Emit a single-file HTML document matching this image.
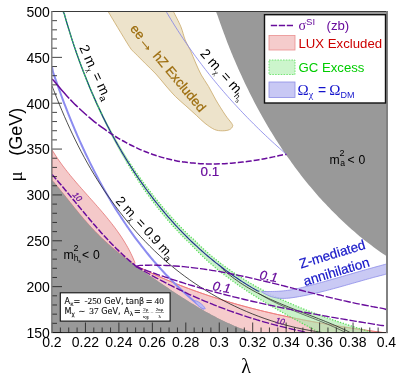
<!DOCTYPE html>
<html><head><meta charset="utf-8"><title>plot</title>
<style>html,body{margin:0;padding:0;background:#fff}svg{display:block}</style></head>
<body>
<svg width="399" height="383" viewBox="0 0 399 383">
<defs><clipPath id="cp"><rect x="52.0" y="11.5" width="334.5" height="321.0"/></clipPath></defs>
<rect width="399" height="383" fill="#fff"/>
<g clip-path="url(#cp)">
<path d="M216.00 11.50 C216.31 12.31 217.29 14.77 217.89 16.38 C218.48 18.00 218.99 19.60 219.55 21.20 C220.11 22.80 220.68 24.41 221.25 26.01 C221.82 27.61 222.40 29.21 222.99 30.81 C223.58 32.41 224.17 34.01 224.77 35.61 C225.37 37.21 225.98 38.80 226.59 40.40 C227.20 41.99 227.82 43.58 228.45 45.17 C229.08 46.76 229.71 48.35 230.35 49.94 C230.99 51.53 231.64 53.11 232.29 54.69 C232.95 56.28 233.61 57.86 234.28 59.44 C234.95 61.01 235.62 62.59 236.30 64.16 C236.98 65.74 237.67 67.31 238.37 68.88 C239.06 70.45 239.76 72.01 240.47 73.58 C241.18 75.14 241.90 76.70 242.62 78.26 C243.35 79.81 244.08 81.37 244.81 82.92 C245.55 84.47 246.29 86.02 247.05 87.57 C247.80 89.11 248.56 90.65 249.32 92.19 C250.09 93.73 250.86 95.27 251.64 96.80 C252.42 98.33 253.21 99.86 254.00 101.38 C254.80 102.91 255.60 104.43 256.41 105.95 C257.21 107.46 258.03 108.98 258.85 110.49 C259.68 111.99 260.51 113.50 261.35 115.00 C262.18 116.50 263.03 118.00 263.88 119.49 C264.73 120.98 265.59 122.47 266.46 123.95 C267.33 125.44 268.20 126.92 269.09 128.39 C269.97 129.86 270.86 131.33 271.75 132.80 C272.65 134.26 273.56 135.72 274.47 137.18 C275.38 138.63 276.30 140.08 277.23 141.53 C278.15 142.97 279.09 144.41 280.03 145.85 C280.97 147.28 281.92 148.71 282.88 150.13 C283.84 151.56 284.80 152.97 285.78 154.39 C286.75 155.80 287.73 157.21 288.72 158.61 C289.71 160.01 290.70 161.40 291.70 162.79 C292.71 164.18 293.72 165.56 294.74 166.94 C295.76 168.32 296.79 169.69 297.82 171.05 C298.85 172.42 299.90 173.78 300.95 175.13 C302.00 176.48 303.06 177.83 304.12 179.17 C305.19 180.50 306.26 181.84 307.35 183.16 C308.43 184.49 309.52 185.81 310.62 187.12 C311.71 188.43 312.82 189.74 313.93 191.03 C315.05 192.33 316.17 193.62 317.30 194.91 C318.43 196.19 319.57 197.47 320.71 198.74 C321.86 200.00 323.02 201.27 324.18 202.52 C325.34 203.77 326.51 205.02 327.69 206.26 C328.87 207.50 330.06 208.73 331.25 209.95 C332.45 211.18 333.65 212.39 334.86 213.60 C336.07 214.80 337.29 216.00 338.52 217.20 C339.75 218.39 340.99 219.57 342.23 220.74 C343.48 221.92 344.73 223.08 345.99 224.24 C347.25 225.40 348.52 226.55 349.80 227.69 C351.08 228.83 352.36 229.96 353.66 231.08 C354.96 232.21 356.26 233.32 357.57 234.42 C358.88 235.53 360.20 236.63 361.53 237.71 C362.86 238.80 364.20 239.88 365.55 240.95 C366.89 242.01 368.25 243.07 369.61 244.12 C370.97 245.17 372.35 246.21 373.73 247.24 C375.11 248.27 376.50 249.29 377.89 250.30 C379.29 251.32 380.68 252.36 382.11 253.31 C383.55 254.26 385.77 255.55 386.50 256.00 L386.50 11.50 Z" fill="#999"/>
<path d="M52.00 180.50 C52.26 180.72 53.09 181.33 53.57 181.81 C54.05 182.29 54.44 182.85 54.87 183.38 C55.31 183.90 55.74 184.42 56.17 184.95 C56.60 185.47 57.03 185.99 57.46 186.52 C57.89 187.05 58.32 187.57 58.75 188.10 C59.18 188.63 59.60 189.16 60.03 189.68 C60.46 190.21 60.89 190.74 61.31 191.27 C61.74 191.80 62.16 192.33 62.59 192.86 C63.01 193.39 63.44 193.92 63.86 194.45 C64.29 194.98 64.71 195.51 65.14 196.04 C65.56 196.58 65.98 197.11 66.41 197.64 C66.83 198.17 67.25 198.70 67.68 199.23 C68.10 199.76 68.53 200.29 68.95 200.83 C69.37 201.36 69.80 201.89 70.22 202.42 C70.65 202.95 71.07 203.48 71.50 204.01 C71.92 204.54 72.35 205.07 72.77 205.60 C73.20 206.13 73.63 206.66 74.05 207.18 C74.48 207.71 74.91 208.24 75.33 208.77 C75.76 209.29 76.19 209.82 76.62 210.34 C77.05 210.87 77.48 211.39 77.91 211.92 C78.34 212.44 78.77 212.97 79.21 213.49 C79.64 214.01 80.07 214.53 80.51 215.05 C80.94 215.57 81.38 216.09 81.82 216.61 C82.25 217.12 82.69 217.64 83.13 218.15 C83.57 218.67 84.01 219.18 84.46 219.70 C84.90 220.21 85.34 220.72 85.79 221.23 C86.23 221.74 86.68 222.25 87.13 222.75 C87.57 223.26 88.02 223.76 88.48 224.27 C88.93 224.77 89.38 225.27 89.83 225.77 C90.29 226.27 90.75 226.77 91.20 227.26 C91.66 227.76 92.12 228.25 92.59 228.75 C93.05 229.24 93.51 229.73 93.98 230.22 C94.45 230.70 94.91 231.19 95.38 231.67 C95.85 232.16 96.33 232.64 96.80 233.12 C97.27 233.60 97.75 234.08 98.23 234.55 C98.71 235.03 99.19 235.50 99.67 235.98 C100.15 236.45 100.64 236.92 101.12 237.39 C101.61 237.85 102.10 238.32 102.59 238.78 C103.08 239.25 103.57 239.71 104.06 240.17 C104.56 240.63 105.05 241.09 105.55 241.55 C106.05 242.00 106.55 242.46 107.05 242.91 C107.55 243.36 108.05 243.81 108.56 244.26 C109.06 244.71 109.57 245.16 110.08 245.60 C110.59 246.05 111.10 246.49 111.61 246.93 C112.12 247.37 112.64 247.81 113.16 248.25 C113.67 248.69 114.19 249.12 114.71 249.56 C115.23 249.99 115.75 250.42 116.28 250.85 C116.80 251.28 117.33 251.71 117.86 252.13 C118.38 252.56 118.91 252.99 119.45 253.41 C119.98 253.83 120.51 254.25 121.04 254.67 C121.58 255.09 122.12 255.51 122.66 255.92 C123.19 256.34 123.74 256.75 124.28 257.16 C124.82 257.57 125.36 257.98 125.91 258.39 C126.46 258.80 127.00 259.20 127.55 259.61 C128.10 260.01 128.65 260.42 129.21 260.82 C129.76 261.22 130.32 261.62 130.87 262.01 C131.43 262.41 131.99 262.81 132.55 263.20 C133.11 263.60 133.74 263.91 134.23 264.38 C134.73 264.84 134.96 265.53 135.50 266.00 C136.04 266.47 136.81 266.81 137.45 267.23 C138.10 267.64 138.72 268.07 139.36 268.50 C139.99 268.92 140.63 269.35 141.26 269.78 C141.89 270.20 142.53 270.63 143.16 271.06 C143.79 271.48 144.42 271.91 145.06 272.34 C145.69 272.77 146.32 273.20 146.96 273.63 C147.59 274.06 148.22 274.49 148.85 274.92 C149.48 275.35 150.12 275.78 150.75 276.21 C151.38 276.64 152.01 277.08 152.65 277.51 C153.28 277.94 153.91 278.37 154.54 278.80 C155.18 279.24 155.81 279.67 156.44 280.10 C157.07 280.53 157.71 280.96 158.34 281.40 C158.97 281.83 159.61 282.26 160.24 282.69 C160.87 283.12 161.51 283.56 162.14 283.99 C162.77 284.42 163.41 284.85 164.04 285.28 C164.68 285.71 165.31 286.14 165.94 286.57 C166.58 287.00 167.21 287.43 167.85 287.86 C168.49 288.29 169.12 288.72 169.76 289.14 C170.39 289.57 171.03 290.00 171.67 290.43 C172.31 290.85 172.94 291.28 173.58 291.70 C174.22 292.13 174.86 292.55 175.50 292.98 C176.14 293.40 176.78 293.82 177.42 294.24 C178.06 294.66 178.70 295.08 179.34 295.50 C179.98 295.92 180.62 296.34 181.27 296.76 C181.91 297.18 182.55 297.59 183.20 298.01 C183.84 298.42 184.48 298.83 185.13 299.25 C185.78 299.66 186.42 300.07 187.07 300.48 C187.72 300.89 188.37 301.30 189.01 301.70 C189.66 302.11 190.31 302.52 190.96 302.92 C191.61 303.32 192.26 303.72 192.92 304.12 C193.57 304.52 194.22 304.92 194.88 305.32 C195.53 305.72 196.19 306.11 196.84 306.50 C197.50 306.90 198.16 307.29 198.81 307.68 C199.47 308.07 200.13 308.45 200.79 308.84 C201.45 309.22 202.11 309.61 202.78 309.99 C203.44 310.37 204.10 310.75 204.77 311.13 C205.43 311.50 206.10 311.88 206.77 312.25 C207.43 312.62 208.10 312.99 208.77 313.36 C209.44 313.73 210.11 314.09 210.78 314.45 C211.46 314.82 212.13 315.18 212.81 315.53 C213.48 315.89 214.16 316.25 214.83 316.60 C215.51 316.95 216.19 317.30 216.87 317.65 C217.55 317.99 218.23 318.34 218.92 318.68 C219.60 319.02 220.29 319.36 220.97 319.70 C221.66 320.03 222.35 320.36 223.04 320.69 C223.73 321.02 224.42 321.35 225.11 321.67 C225.80 322.00 226.50 322.32 227.19 322.63 C227.89 322.95 228.59 323.26 229.28 323.58 C229.98 323.89 230.68 324.19 231.39 324.50 C232.09 324.80 232.79 325.10 233.50 325.40 C234.21 325.70 234.91 325.99 235.62 326.28 C236.33 326.57 237.05 326.86 237.76 327.14 C238.47 327.42 239.19 327.70 239.90 327.98 C240.62 328.25 241.34 328.53 242.06 328.79 C242.78 329.06 243.50 329.33 244.23 329.59 C244.95 329.85 245.68 330.10 246.41 330.35 C247.14 330.61 247.87 330.86 248.60 331.10 C249.34 331.34 250.07 331.59 250.81 331.82 C251.54 332.05 252.63 332.39 253.00 332.50 L52.00 332.50 Z" fill="#999"/>
<path d="M108.10 11.50 C109.95 14.58 115.50 23.92 119.20 30.00 C122.90 36.08 127.67 44.15 130.30 48.00 C132.93 51.85 132.48 50.50 135.00 53.10 C137.52 55.70 141.92 60.12 145.40 63.60 C148.88 67.08 152.47 70.27 155.90 74.00 C159.33 77.73 162.75 82.25 166.00 86.00 C169.25 89.75 172.08 93.18 175.40 96.50 C178.72 99.82 182.42 102.77 185.90 105.90 C189.38 109.03 193.12 112.40 196.30 115.30 C199.48 118.20 201.97 120.93 205.00 123.30 C208.03 125.67 211.62 128.25 214.50 129.50 C217.38 130.75 219.82 130.77 222.30 130.80 C224.78 130.83 227.70 130.42 229.40 129.70 C231.10 128.98 232.12 127.55 232.50 126.50 C232.88 125.45 232.90 125.32 231.70 123.40 C230.50 121.48 227.93 118.90 225.30 115.00 C222.67 111.10 218.68 104.75 215.90 100.00 C213.12 95.25 211.03 90.67 208.60 86.50 C206.17 82.33 203.45 78.92 201.30 75.00 C199.15 71.08 197.52 67.10 195.70 63.00 C193.88 58.90 192.15 54.23 190.40 50.40 C188.65 46.57 186.78 43.93 185.20 40.00 C183.62 36.07 182.87 31.55 180.90 26.80 C178.93 22.05 174.65 14.05 173.40 11.50 Z" fill="#ede3cb" stroke="#c9a868" stroke-width="0.8"/>
<path d="M52.00 150.00 C52.23 150.34 52.95 151.36 53.39 152.04 C53.84 152.71 54.23 153.39 54.66 154.06 C55.09 154.74 55.52 155.41 55.96 156.08 C56.39 156.74 56.83 157.41 57.28 158.07 C57.73 158.73 58.18 159.39 58.63 160.05 C59.09 160.71 59.55 161.36 60.01 162.01 C60.48 162.67 60.95 163.32 61.42 163.96 C61.89 164.61 62.37 165.26 62.85 165.90 C63.33 166.54 63.81 167.18 64.30 167.82 C64.79 168.46 65.28 169.10 65.77 169.74 C66.26 170.37 66.76 171.00 67.26 171.64 C67.76 172.27 68.27 172.90 68.77 173.53 C69.28 174.15 69.79 174.78 70.30 175.41 C70.81 176.03 71.32 176.66 71.84 177.28 C72.36 177.90 72.88 178.52 73.40 179.14 C73.92 179.76 74.44 180.38 74.97 181.00 C75.49 181.62 76.02 182.23 76.55 182.85 C77.08 183.46 77.61 184.08 78.14 184.69 C78.67 185.30 79.21 185.92 79.74 186.53 C80.28 187.14 80.81 187.75 81.35 188.36 C81.89 188.98 82.43 189.59 82.97 190.19 C83.51 190.80 84.05 191.41 84.59 192.02 C85.13 192.63 85.67 193.24 86.21 193.85 C86.75 194.46 87.29 195.07 87.84 195.67 C88.38 196.28 88.92 196.89 89.46 197.50 C90.00 198.11 90.55 198.71 91.09 199.32 C91.63 199.93 92.17 200.54 92.71 201.15 C93.25 201.76 93.79 202.37 94.33 202.98 C94.87 203.59 95.41 204.20 95.95 204.81 C96.49 205.42 97.02 206.03 97.56 206.64 C98.10 207.25 98.63 207.86 99.16 208.48 C99.70 209.09 100.23 209.70 100.76 210.32 C101.29 210.93 101.82 211.55 102.34 212.17 C102.87 212.79 103.40 213.40 103.92 214.02 C104.44 214.64 104.96 215.26 105.48 215.88 C106.00 216.51 106.51 217.13 107.03 217.75 C107.54 218.38 108.05 219.00 108.56 219.63 C109.07 220.26 109.57 220.89 110.07 221.52 C110.58 222.15 111.08 222.78 111.57 223.42 C112.07 224.05 112.56 224.69 113.05 225.33 C113.54 225.96 114.02 226.61 114.51 227.25 C114.99 227.89 115.47 228.53 115.94 229.18 C116.42 229.83 116.89 230.48 117.35 231.13 C117.82 231.78 118.28 232.43 118.74 233.09 C119.20 233.74 119.65 234.40 120.10 235.06 C120.55 235.72 121.00 236.39 121.44 237.05 C121.88 237.72 122.31 238.39 122.74 239.06 C123.17 239.73 123.60 240.41 124.02 241.09 C124.44 241.76 124.85 242.44 125.26 243.13 C125.67 243.81 126.07 244.50 126.47 245.19 C126.87 245.88 127.26 246.57 127.65 247.27 C128.04 247.97 128.42 248.67 128.79 249.37 C129.17 250.07 129.53 250.78 129.90 251.49 C130.26 252.20 130.61 252.92 130.96 253.63 C131.31 254.35 131.65 255.07 131.99 255.80 C132.33 256.53 132.65 257.25 132.98 257.99 C133.30 258.72 133.61 259.46 133.92 260.20 C134.23 260.94 134.72 261.64 134.82 262.44 C134.92 263.24 134.55 264.57 134.50 265.00 L134.23 264.38 C133.95 264.18 133.11 263.60 132.55 263.20 C131.99 262.81 131.43 262.41 130.87 262.01 C130.32 261.62 129.76 261.22 129.21 260.82 C128.65 260.42 128.10 260.01 127.55 259.61 C127.00 259.20 126.46 258.80 125.91 258.39 C125.36 257.98 124.82 257.57 124.28 257.16 C123.74 256.75 123.19 256.34 122.66 255.92 C122.12 255.51 121.58 255.09 121.04 254.67 C120.51 254.25 119.98 253.83 119.45 253.41 C118.91 252.99 118.38 252.56 117.86 252.13 C117.33 251.71 116.80 251.28 116.28 250.85 C115.75 250.42 115.23 249.99 114.71 249.56 C114.19 249.12 113.67 248.69 113.16 248.25 C112.64 247.81 112.12 247.37 111.61 246.93 C111.10 246.49 110.59 246.05 110.08 245.60 C109.57 245.16 109.06 244.71 108.56 244.26 C108.05 243.81 107.55 243.36 107.05 242.91 C106.55 242.46 106.05 242.00 105.55 241.55 C105.05 241.09 104.56 240.63 104.06 240.17 C103.57 239.71 103.08 239.25 102.59 238.78 C102.10 238.32 101.61 237.85 101.12 237.39 C100.64 236.92 100.15 236.45 99.67 235.98 C99.19 235.50 98.71 235.03 98.23 234.55 C97.75 234.08 97.27 233.60 96.80 233.12 C96.33 232.64 95.85 232.16 95.38 231.67 C94.91 231.19 94.45 230.70 93.98 230.22 C93.51 229.73 93.05 229.24 92.59 228.75 C92.12 228.25 91.66 227.76 91.20 227.26 C90.75 226.77 90.29 226.27 89.83 225.77 C89.38 225.27 88.93 224.77 88.48 224.27 C88.02 223.76 87.57 223.26 87.13 222.75 C86.68 222.25 86.23 221.74 85.79 221.23 C85.34 220.72 84.90 220.21 84.46 219.70 C84.01 219.18 83.57 218.67 83.13 218.15 C82.69 217.64 82.25 217.12 81.82 216.61 C81.38 216.09 80.94 215.57 80.51 215.05 C80.07 214.53 79.64 214.01 79.21 213.49 C78.77 212.97 78.34 212.44 77.91 211.92 C77.48 211.39 77.05 210.87 76.62 210.34 C76.19 209.82 75.76 209.29 75.33 208.77 C74.91 208.24 74.48 207.71 74.05 207.18 C73.63 206.66 73.20 206.13 72.77 205.60 C72.35 205.07 71.92 204.54 71.50 204.01 C71.07 203.48 70.65 202.95 70.22 202.42 C69.80 201.89 69.37 201.36 68.95 200.83 C68.53 200.29 68.10 199.76 67.68 199.23 C67.25 198.70 66.83 198.17 66.41 197.64 C65.98 197.11 65.56 196.58 65.14 196.04 C64.71 195.51 64.29 194.98 63.86 194.45 C63.44 193.92 63.01 193.39 62.59 192.86 C62.16 192.33 61.74 191.80 61.31 191.27 C60.89 190.74 60.46 190.21 60.03 189.68 C59.60 189.16 59.18 188.63 58.75 188.10 C58.32 187.57 57.89 187.05 57.46 186.52 C57.03 185.99 56.60 185.47 56.17 184.95 C55.74 184.42 55.31 183.90 54.87 183.38 C54.44 182.85 54.05 182.29 53.57 181.81 C53.09 181.33 52.26 180.72 52.00 180.50 Z" fill="#f3c6c6" fill-opacity="0.95" stroke="#e57272" stroke-width="0.8"/>
<path d="M135.50 266.00 C136.20 266.24 138.31 266.89 139.67 267.46 C141.03 268.03 142.33 268.77 143.66 269.41 C145.00 270.06 146.33 270.70 147.67 271.33 C149.01 271.96 150.35 272.59 151.69 273.21 C153.03 273.83 154.37 274.45 155.72 275.05 C157.07 275.66 158.42 276.26 159.77 276.86 C161.12 277.45 162.47 278.04 163.83 278.63 C165.18 279.21 166.54 279.79 167.90 280.36 C169.26 280.93 170.62 281.50 171.98 282.06 C173.35 282.62 174.71 283.17 176.08 283.72 C177.45 284.27 178.82 284.81 180.19 285.35 C181.56 285.89 182.94 286.42 184.31 286.94 C185.69 287.47 187.07 287.99 188.45 288.50 C189.83 289.02 191.21 289.53 192.59 290.03 C193.98 290.54 195.36 291.04 196.75 291.53 C198.14 292.02 199.52 292.51 200.92 292.99 C202.31 293.48 203.70 293.96 205.09 294.43 C206.49 294.90 207.88 295.37 209.28 295.83 C210.68 296.29 212.08 296.75 213.48 297.20 C214.88 297.65 216.28 298.10 217.69 298.54 C219.09 298.99 220.49 299.43 221.90 299.86 C223.31 300.29 224.72 300.72 226.13 301.14 C227.54 301.57 228.95 301.98 230.36 302.40 C231.78 302.81 233.19 303.22 234.61 303.63 C236.02 304.03 237.44 304.43 238.86 304.83 C240.28 305.22 241.70 305.61 243.12 306.00 C244.54 306.39 245.96 306.77 247.39 307.15 C248.81 307.53 250.24 307.90 251.66 308.27 C253.09 308.64 254.52 309.01 255.94 309.37 C257.37 309.73 258.80 310.09 260.23 310.44 C261.66 310.79 263.10 311.14 264.53 311.49 C265.96 311.83 267.40 312.17 268.83 312.51 C270.27 312.85 271.70 313.18 273.14 313.51 C274.58 313.84 276.02 314.17 277.46 314.49 C278.90 314.81 280.34 315.13 281.78 315.45 C283.22 315.76 284.66 316.07 286.10 316.38 C287.54 316.69 288.99 316.99 290.43 317.29 C291.88 317.59 293.32 317.89 294.77 318.18 C296.21 318.48 297.66 318.77 299.11 319.06 C300.56 319.34 302.00 319.63 303.45 319.91 C304.90 320.19 306.35 320.47 307.80 320.74 C309.25 321.01 310.70 321.29 312.15 321.55 C313.60 321.82 315.06 322.09 316.51 322.35 C317.96 322.61 319.41 322.87 320.87 323.13 C322.32 323.38 323.77 323.64 325.23 323.89 C326.68 324.14 328.14 324.38 329.59 324.63 C331.05 324.88 332.50 325.12 333.96 325.36 C335.41 325.60 336.87 325.83 338.33 326.07 C339.78 326.30 341.24 326.54 342.70 326.76 C344.15 326.99 345.61 327.22 347.07 327.45 C348.53 327.67 349.98 327.89 351.44 328.11 C352.90 328.33 354.36 328.55 355.82 328.77 C357.27 328.98 358.73 329.20 360.19 329.41 C361.65 329.62 363.11 329.83 364.56 330.03 C366.02 330.24 367.48 330.45 368.94 330.65 C370.40 330.85 371.86 331.05 373.31 331.25 C374.77 331.45 376.23 331.65 377.69 331.84 C379.15 332.04 380.59 332.32 382.06 332.43 C383.53 332.53 385.76 332.49 386.50 332.50 L386.50 334.00 C344.67 334.00 177.33 334.00 135.50 334.00 Z" fill="#ee9999" fill-opacity="0.5" stroke="#e77" stroke-width="0.8"/>
<path d="M52.00 180.50 C52.26 180.72 53.09 181.33 53.57 181.81 C54.05 182.29 54.44 182.85 54.87 183.38 C55.31 183.90 55.74 184.42 56.17 184.95 C56.60 185.47 57.03 185.99 57.46 186.52 C57.89 187.05 58.32 187.57 58.75 188.10 C59.18 188.63 59.60 189.16 60.03 189.68 C60.46 190.21 60.89 190.74 61.31 191.27 C61.74 191.80 62.16 192.33 62.59 192.86 C63.01 193.39 63.44 193.92 63.86 194.45 C64.29 194.98 64.71 195.51 65.14 196.04 C65.56 196.58 65.98 197.11 66.41 197.64 C66.83 198.17 67.25 198.70 67.68 199.23 C68.10 199.76 68.53 200.29 68.95 200.83 C69.37 201.36 69.80 201.89 70.22 202.42 C70.65 202.95 71.07 203.48 71.50 204.01 C71.92 204.54 72.35 205.07 72.77 205.60 C73.20 206.13 73.63 206.66 74.05 207.18 C74.48 207.71 74.91 208.24 75.33 208.77 C75.76 209.29 76.19 209.82 76.62 210.34 C77.05 210.87 77.48 211.39 77.91 211.92 C78.34 212.44 78.77 212.97 79.21 213.49 C79.64 214.01 80.07 214.53 80.51 215.05 C80.94 215.57 81.38 216.09 81.82 216.61 C82.25 217.12 82.69 217.64 83.13 218.15 C83.57 218.67 84.01 219.18 84.46 219.70 C84.90 220.21 85.34 220.72 85.79 221.23 C86.23 221.74 86.68 222.25 87.13 222.75 C87.57 223.26 88.02 223.76 88.48 224.27 C88.93 224.77 89.38 225.27 89.83 225.77 C90.29 226.27 90.75 226.77 91.20 227.26 C91.66 227.76 92.12 228.25 92.59 228.75 C93.05 229.24 93.51 229.73 93.98 230.22 C94.45 230.70 94.91 231.19 95.38 231.67 C95.85 232.16 96.33 232.64 96.80 233.12 C97.27 233.60 97.75 234.08 98.23 234.55 C98.71 235.03 99.19 235.50 99.67 235.98 C100.15 236.45 100.64 236.92 101.12 237.39 C101.61 237.85 102.10 238.32 102.59 238.78 C103.08 239.25 103.57 239.71 104.06 240.17 C104.56 240.63 105.05 241.09 105.55 241.55 C106.05 242.00 106.55 242.46 107.05 242.91 C107.55 243.36 108.05 243.81 108.56 244.26 C109.06 244.71 109.57 245.16 110.08 245.60 C110.59 246.05 111.10 246.49 111.61 246.93 C112.12 247.37 112.64 247.81 113.16 248.25 C113.67 248.69 114.19 249.12 114.71 249.56 C115.23 249.99 115.75 250.42 116.28 250.85 C116.80 251.28 117.33 251.71 117.86 252.13 C118.38 252.56 118.91 252.99 119.45 253.41 C119.98 253.83 120.51 254.25 121.04 254.67 C121.58 255.09 122.12 255.51 122.66 255.92 C123.19 256.34 123.74 256.75 124.28 257.16 C124.82 257.57 125.36 257.98 125.91 258.39 C126.46 258.80 127.00 259.20 127.55 259.61 C128.10 260.01 128.65 260.42 129.21 260.82 C129.76 261.22 130.32 261.62 130.87 262.01 C131.43 262.41 131.99 262.81 132.55 263.20 C133.11 263.60 133.74 263.91 134.23 264.38 C134.73 264.84 134.96 265.53 135.50 266.00 C136.04 266.47 136.81 266.81 137.45 267.23 C138.10 267.64 138.72 268.07 139.36 268.50 C139.99 268.92 140.63 269.35 141.26 269.78 C141.89 270.20 142.53 270.63 143.16 271.06 C143.79 271.48 144.42 271.91 145.06 272.34 C145.69 272.77 146.32 273.20 146.96 273.63 C147.59 274.06 148.22 274.49 148.85 274.92 C149.48 275.35 150.12 275.78 150.75 276.21 C151.38 276.64 152.01 277.08 152.65 277.51 C153.28 277.94 153.91 278.37 154.54 278.80 C155.18 279.24 155.81 279.67 156.44 280.10 C157.07 280.53 157.71 280.96 158.34 281.40 C158.97 281.83 159.61 282.26 160.24 282.69 C160.87 283.12 161.51 283.56 162.14 283.99 C162.77 284.42 163.41 284.85 164.04 285.28 C164.68 285.71 165.31 286.14 165.94 286.57 C166.58 287.00 167.21 287.43 167.85 287.86 C168.49 288.29 169.12 288.72 169.76 289.14 C170.39 289.57 171.03 290.00 171.67 290.43 C172.31 290.85 172.94 291.28 173.58 291.70 C174.22 292.13 174.86 292.55 175.50 292.98 C176.14 293.40 176.78 293.82 177.42 294.24 C178.06 294.66 178.70 295.08 179.34 295.50 C179.98 295.92 180.62 296.34 181.27 296.76 C181.91 297.18 182.55 297.59 183.20 298.01 C183.84 298.42 184.48 298.83 185.13 299.25 C185.78 299.66 186.42 300.07 187.07 300.48 C187.72 300.89 188.37 301.30 189.01 301.70 C189.66 302.11 190.31 302.52 190.96 302.92 C191.61 303.32 192.26 303.72 192.92 304.12 C193.57 304.52 194.22 304.92 194.88 305.32 C195.53 305.72 196.19 306.11 196.84 306.50 C197.50 306.90 198.16 307.29 198.81 307.68 C199.47 308.07 200.13 308.45 200.79 308.84 C201.45 309.22 202.11 309.61 202.78 309.99 C203.44 310.37 204.10 310.75 204.77 311.13 C205.43 311.50 206.10 311.88 206.77 312.25 C207.43 312.62 208.10 312.99 208.77 313.36 C209.44 313.73 210.11 314.09 210.78 314.45 C211.46 314.82 212.13 315.18 212.81 315.53 C213.48 315.89 214.16 316.25 214.83 316.60 C215.51 316.95 216.19 317.30 216.87 317.65 C217.55 317.99 218.23 318.34 218.92 318.68 C219.60 319.02 220.29 319.36 220.97 319.70 C221.66 320.03 222.35 320.36 223.04 320.69 C223.73 321.02 224.42 321.35 225.11 321.67 C225.80 322.00 226.50 322.32 227.19 322.63 C227.89 322.95 228.59 323.26 229.28 323.58 C229.98 323.89 230.68 324.19 231.39 324.50 C232.09 324.80 232.79 325.10 233.50 325.40 C234.21 325.70 234.91 325.99 235.62 326.28 C236.33 326.57 237.05 326.86 237.76 327.14 C238.47 327.42 239.19 327.70 239.90 327.98 C240.62 328.25 241.34 328.53 242.06 328.79 C242.78 329.06 243.50 329.33 244.23 329.59 C244.95 329.85 245.68 330.10 246.41 330.35 C247.14 330.61 247.87 330.86 248.60 331.10 C249.34 331.34 250.07 331.59 250.81 331.82 C251.54 332.05 252.63 332.39 253.00 332.50 L52.00 332.50 Z" fill="#999"/>
<path d="M135.50 266.00 C136.20 266.24 138.31 266.89 139.67 267.46 C141.03 268.03 142.33 268.77 143.66 269.41 C145.00 270.06 146.33 270.70 147.67 271.33 C149.01 271.96 150.35 272.59 151.69 273.21 C153.03 273.83 154.37 274.45 155.72 275.05 C157.07 275.66 158.42 276.26 159.77 276.86 C161.12 277.45 162.47 278.04 163.83 278.63 C165.18 279.21 166.54 279.79 167.90 280.36 C169.26 280.93 170.62 281.50 171.98 282.06 C173.35 282.62 174.71 283.17 176.08 283.72 C177.45 284.27 178.82 284.81 180.19 285.35 C181.56 285.89 182.94 286.42 184.31 286.94 C185.69 287.47 187.07 287.99 188.45 288.50 C189.83 289.02 191.21 289.53 192.59 290.03 C193.98 290.54 195.36 291.04 196.75 291.53 C198.14 292.02 199.52 292.51 200.92 292.99 C202.31 293.48 203.70 293.96 205.09 294.43 C206.49 294.90 207.88 295.37 209.28 295.83 C210.68 296.29 212.08 296.75 213.48 297.20 C214.88 297.65 216.28 298.10 217.69 298.54 C219.09 298.99 220.49 299.43 221.90 299.86 C223.31 300.29 224.72 300.72 226.13 301.14 C227.54 301.57 228.95 301.98 230.36 302.40 C231.78 302.81 233.19 303.22 234.61 303.63 C236.02 304.03 237.44 304.43 238.86 304.83 C240.28 305.22 241.70 305.61 243.12 306.00 C244.54 306.39 245.96 306.77 247.39 307.15 C248.81 307.53 250.24 307.90 251.66 308.27 C253.09 308.64 254.52 309.01 255.94 309.37 C257.37 309.73 258.80 310.09 260.23 310.44 C261.66 310.79 263.10 311.14 264.53 311.49 C265.96 311.83 267.40 312.17 268.83 312.51 C270.27 312.85 271.70 313.18 273.14 313.51 C274.58 313.84 276.02 314.17 277.46 314.49 C278.90 314.81 280.34 315.13 281.78 315.45 C283.22 315.76 284.66 316.07 286.10 316.38 C287.54 316.69 288.99 316.99 290.43 317.29 C291.88 317.59 293.32 317.89 294.77 318.18 C296.21 318.48 297.66 318.77 299.11 319.06 C300.56 319.34 302.00 319.63 303.45 319.91 C304.90 320.19 306.35 320.47 307.80 320.74 C309.25 321.01 310.70 321.29 312.15 321.55 C313.60 321.82 315.06 322.09 316.51 322.35 C317.96 322.61 319.41 322.87 320.87 323.13 C322.32 323.38 323.77 323.64 325.23 323.89 C326.68 324.14 328.14 324.38 329.59 324.63 C331.05 324.88 332.50 325.12 333.96 325.36 C335.41 325.60 336.87 325.83 338.33 326.07 C339.78 326.30 341.24 326.54 342.70 326.76 C344.15 326.99 345.61 327.22 347.07 327.45 C348.53 327.67 349.98 327.89 351.44 328.11 C352.90 328.33 354.36 328.55 355.82 328.77 C357.27 328.98 358.73 329.20 360.19 329.41 C361.65 329.62 363.11 329.83 364.56 330.03 C366.02 330.24 367.48 330.45 368.94 330.65 C370.40 330.85 371.86 331.05 373.31 331.25 C374.77 331.45 376.23 331.65 377.69 331.84 C379.15 332.04 380.59 332.32 382.06 332.43 C383.53 332.53 385.76 332.49 386.50 332.50" fill="none" stroke="#e77" stroke-width="0.8"/>
<path d="M63.47 11.38 C63.65 11.78 64.26 13.00 64.55 13.80 C64.85 14.61 65.01 15.42 65.24 16.22 C65.47 17.03 65.70 17.82 65.93 18.62 C66.16 19.42 66.39 20.22 66.62 21.02 C66.86 21.82 67.09 22.62 67.33 23.42 C67.57 24.22 67.81 25.02 68.05 25.82 C68.29 26.62 68.53 27.41 68.77 28.21 C69.02 29.01 69.26 29.81 69.51 30.61 C69.76 31.41 70.01 32.20 70.26 33.00 C70.51 33.80 70.76 34.60 71.01 35.40 C71.26 36.19 71.52 36.99 71.77 37.79 C72.03 38.59 72.29 39.38 72.55 40.18 C72.81 40.98 73.07 41.77 73.33 42.57 C73.60 43.36 73.86 44.16 74.13 44.96 C74.39 45.75 74.66 46.55 74.93 47.34 C75.20 48.14 75.47 48.93 75.74 49.73 C76.02 50.52 76.29 51.31 76.57 52.11 C76.85 52.90 77.13 53.69 77.41 54.48 C77.69 55.27 77.98 56.07 78.26 56.86 C78.55 57.65 78.83 58.44 79.12 59.23 C79.41 60.02 79.70 60.81 79.99 61.60 C80.28 62.39 80.58 63.18 80.87 63.97 C81.17 64.76 81.46 65.55 81.76 66.33 C82.06 67.12 82.36 67.91 82.66 68.70 C82.96 69.48 83.27 70.27 83.57 71.05 C83.88 71.84 84.18 72.63 84.49 73.41 C84.80 74.19 85.11 74.98 85.42 75.76 C85.73 76.55 86.05 77.33 86.36 78.11 C86.68 78.90 86.99 79.68 87.31 80.46 C87.63 81.24 87.95 82.02 88.27 82.80 C88.59 83.58 88.92 84.36 89.24 85.14 C89.57 85.92 89.89 86.70 90.22 87.48 C90.55 88.25 90.88 89.03 91.21 89.81 C91.54 90.58 91.88 91.36 92.21 92.13 C92.55 92.91 92.89 93.68 93.23 94.46 C93.57 95.23 93.91 96.00 94.25 96.77 C94.60 97.54 94.94 98.31 95.29 99.08 C95.64 99.85 95.99 100.62 96.34 101.39 C96.69 102.16 97.04 102.93 97.40 103.70 C97.75 104.46 98.11 105.23 98.46 105.99 C98.82 106.76 99.18 107.52 99.54 108.29 C99.90 109.05 100.27 109.81 100.63 110.58 C101.00 111.34 101.36 112.10 101.73 112.86 C102.10 113.62 102.47 114.38 102.84 115.14 C103.21 115.90 103.58 116.65 103.96 117.41 C104.33 118.17 104.71 118.92 105.09 119.68 C105.47 120.43 105.85 121.19 106.23 121.94 C106.61 122.69 107.00 123.44 107.38 124.19 C107.77 124.95 108.16 125.70 108.55 126.45 C108.94 127.19 109.33 127.94 109.73 128.68 C110.13 129.43 110.53 130.17 110.93 130.91 C111.33 131.66 111.73 132.40 112.14 133.14 C112.54 133.88 112.95 134.62 113.36 135.36 C113.77 136.09 114.18 136.83 114.59 137.57 C115.01 138.30 115.42 139.03 115.84 139.77 C116.25 140.50 116.67 141.23 117.09 141.96 C117.52 142.69 117.94 143.42 118.36 144.15 C118.79 144.88 119.21 145.61 119.64 146.33 C120.07 147.06 120.50 147.78 120.93 148.51 C121.36 149.23 121.79 149.95 122.23 150.67 C122.66 151.39 123.10 152.11 123.54 152.83 C123.98 153.55 124.42 154.27 124.86 154.98 C125.30 155.70 125.75 156.42 126.19 157.13 C126.64 157.84 127.08 158.55 127.53 159.27 C127.98 159.98 128.66 161.04 128.89 161.39 L126.89 162.63 C126.67 162.27 126.02 161.19 125.59 160.46 C125.16 159.73 124.73 159.01 124.30 158.28 C123.87 157.55 123.44 156.82 123.02 156.09 C122.59 155.36 122.17 154.62 121.75 153.89 C121.33 153.16 120.91 152.42 120.49 151.69 C120.08 150.95 119.66 150.22 119.25 149.48 C118.84 148.74 118.42 148.00 118.02 147.26 C117.61 146.52 117.20 145.78 116.79 145.04 C116.39 144.29 115.98 143.55 115.58 142.81 C115.18 142.06 114.78 141.32 114.38 140.57 C113.98 139.82 113.59 139.08 113.19 138.33 C112.80 137.58 112.41 136.83 112.02 136.08 C111.62 135.33 111.23 134.58 110.85 133.83 C110.46 133.07 110.07 132.32 109.68 131.57 C109.30 130.82 108.92 130.06 108.53 129.31 C108.15 128.55 107.77 127.79 107.39 127.04 C107.01 126.28 106.63 125.53 106.25 124.77 C105.87 124.01 105.50 123.25 105.12 122.50 C104.74 121.74 104.37 120.98 104.00 120.22 C103.63 119.46 103.26 118.70 102.89 117.93 C102.52 117.17 102.16 116.41 101.79 115.64 C101.43 114.88 101.07 114.11 100.70 113.35 C100.34 112.58 99.98 111.82 99.63 111.05 C99.27 110.28 98.91 109.51 98.56 108.74 C98.21 107.98 97.86 107.21 97.50 106.44 C97.15 105.66 96.81 104.89 96.46 104.12 C96.11 103.35 95.77 102.58 95.43 101.80 C95.08 101.03 94.74 100.26 94.40 99.48 C94.06 98.71 93.72 97.93 93.39 97.15 C93.05 96.38 92.72 95.60 92.38 94.82 C92.05 94.04 91.72 93.27 91.39 92.49 C91.06 91.71 90.73 90.93 90.40 90.15 C90.08 89.37 89.75 88.59 89.43 87.81 C89.10 87.03 88.78 86.25 88.46 85.46 C88.14 84.68 87.82 83.90 87.50 83.12 C87.19 82.33 86.87 81.55 86.56 80.76 C86.24 79.98 85.93 79.19 85.62 78.41 C85.31 77.62 85.00 76.84 84.69 76.05 C84.39 75.26 84.08 74.48 83.78 73.69 C83.48 72.90 83.17 72.11 82.87 71.32 C82.57 70.53 82.27 69.74 81.98 68.95 C81.68 68.16 81.39 67.37 81.09 66.58 C80.80 65.79 80.51 65.00 80.22 64.21 C79.93 63.42 79.64 62.63 79.35 61.83 C79.07 61.04 78.78 60.25 78.50 59.46 C78.21 58.66 77.93 57.87 77.65 57.08 C77.37 56.28 77.09 55.49 76.82 54.69 C76.54 53.90 76.26 53.10 75.99 52.31 C75.72 51.51 75.45 50.72 75.17 49.92 C74.90 49.12 74.63 48.33 74.36 47.53 C74.09 46.74 73.82 45.94 73.56 45.15 C73.29 44.35 73.03 43.55 72.76 42.76 C72.50 41.96 72.24 41.16 71.98 40.36 C71.72 39.57 71.46 38.77 71.20 37.97 C70.95 37.17 70.69 36.38 70.44 35.58 C70.19 34.78 69.93 33.98 69.68 33.18 C69.43 32.38 69.18 31.58 68.94 30.79 C68.69 29.99 68.44 29.19 68.20 28.39 C67.96 27.59 67.71 26.79 67.47 25.99 C67.23 25.19 66.99 24.39 66.76 23.59 C66.52 22.79 66.28 21.99 66.05 21.19 C65.81 20.39 65.58 19.59 65.35 18.79 C65.12 17.99 64.89 17.19 64.66 16.39 C64.43 15.59 64.28 14.80 63.99 14.01 C63.70 13.22 63.10 12.02 62.93 11.62 Z" fill="#c9f2c9" stroke="#6fe36f" stroke-width="0.6"/>
<path d="M128.89 161.39 C129.11 161.75 129.80 162.81 130.25 163.52 C130.71 164.22 131.17 164.93 131.63 165.63 C132.09 166.33 132.55 167.03 133.01 167.73 C133.48 168.43 133.94 169.13 134.42 169.83 C134.89 170.52 135.36 171.21 135.84 171.90 C136.32 172.59 136.80 173.28 137.28 173.97 C137.76 174.66 138.24 175.35 138.72 176.03 C139.21 176.72 139.69 177.40 140.18 178.08 C140.67 178.76 141.16 179.44 141.65 180.12 C142.14 180.80 142.63 181.48 143.13 182.16 C143.62 182.83 144.12 183.51 144.62 184.18 C145.11 184.85 145.61 185.52 146.11 186.19 C146.62 186.86 147.12 187.53 147.62 188.20 C148.13 188.87 148.63 189.54 149.14 190.20 C149.65 190.86 150.16 191.53 150.67 192.19 C151.18 192.85 151.70 193.51 152.21 194.17 C152.73 194.83 153.24 195.48 153.76 196.14 C154.28 196.79 154.80 197.45 155.32 198.10 C155.84 198.75 156.36 199.40 156.89 200.05 C157.41 200.70 157.94 201.35 158.47 201.99 C159.00 202.64 159.53 203.28 160.06 203.92 C160.60 204.56 161.13 205.20 161.67 205.84 C162.20 206.48 162.74 207.12 163.28 207.75 C163.82 208.39 164.37 209.02 164.91 209.65 C165.46 210.28 166.00 210.91 166.55 211.54 C167.10 212.17 167.65 212.79 168.20 213.42 C168.75 214.04 169.30 214.66 169.86 215.28 C170.42 215.90 170.97 216.52 171.53 217.14 C172.09 217.76 172.65 218.37 173.21 218.99 C173.77 219.60 174.33 220.22 174.90 220.83 C175.46 221.45 176.02 222.06 176.59 222.67 C177.16 223.27 177.73 223.88 178.30 224.49 C178.87 225.09 179.44 225.70 180.01 226.30 C180.59 226.90 181.17 227.50 181.74 228.10 C182.32 228.69 182.90 229.29 183.49 229.88 C184.07 230.48 184.65 231.07 185.24 231.66 C185.83 232.25 186.41 232.83 187.00 233.42 C187.59 234.01 188.19 234.59 188.78 235.17 C189.38 235.75 189.82 236.27 190.58 236.92 C191.33 237.56 192.44 238.27 193.31 239.05 C194.19 239.82 194.98 240.75 195.82 241.59 C196.66 242.43 197.50 243.26 198.35 244.09 C199.20 244.91 200.06 245.73 200.92 246.54 C201.78 247.35 202.64 248.16 203.51 248.95 C204.38 249.75 205.26 250.54 206.14 251.32 C207.02 252.11 207.90 252.88 208.79 253.65 C209.68 254.42 210.58 255.18 211.48 255.94 C212.37 256.69 213.28 257.44 214.19 258.18 C215.09 258.93 216.01 259.66 216.92 260.39 C217.84 261.12 218.76 261.84 219.69 262.56 C220.61 263.27 221.54 263.98 222.48 264.68 C223.41 265.39 224.35 266.08 225.29 266.77 C226.23 267.46 227.18 268.15 228.13 268.83 C229.08 269.50 230.03 270.18 230.99 270.84 C231.95 271.51 232.91 272.17 233.88 272.82 C234.85 273.47 235.82 274.12 236.79 274.76 C237.76 275.41 238.74 276.04 239.72 276.67 C240.70 277.30 241.69 277.93 242.68 278.55 C243.66 279.17 244.66 279.78 245.65 280.39 C246.65 280.99 247.65 281.60 248.65 282.19 C249.65 282.79 250.66 283.38 251.66 283.97 C252.67 284.55 253.69 285.13 254.70 285.71 C255.72 286.29 256.73 286.86 257.75 287.42 C258.78 287.99 259.80 288.55 260.83 289.10 C261.86 289.66 262.89 290.21 263.92 290.75 C264.95 291.30 265.99 291.84 267.03 292.37 C268.07 292.91 269.11 293.44 270.15 293.96 C271.19 294.49 272.24 295.01 273.29 295.53 C274.34 296.04 275.39 296.56 276.45 297.06 C277.50 297.57 278.56 298.07 279.62 298.57 C280.68 299.07 281.74 299.57 282.80 300.05 C283.87 300.54 284.93 301.03 286.00 301.51 C287.07 301.99 288.14 302.47 289.21 302.94 C290.28 303.42 291.36 303.88 292.44 304.35 C293.51 304.81 294.59 305.28 295.67 305.73 C296.75 306.19 297.83 306.64 298.92 307.09 C300.00 307.54 301.09 307.99 302.18 308.43 C303.26 308.87 304.35 309.31 305.44 309.74 C306.53 310.18 307.63 310.61 308.72 311.04 C309.81 311.46 310.91 311.89 312.01 312.31 C313.10 312.73 314.20 313.15 315.30 313.56 C316.40 313.97 317.50 314.39 318.60 314.79 C319.71 315.20 320.81 315.61 321.91 316.01 C323.02 316.41 324.12 316.81 325.23 317.20 C326.34 317.60 327.44 317.99 328.55 318.38 C329.66 318.77 330.77 319.15 331.88 319.54 C332.99 319.92 334.10 320.30 335.21 320.68 C336.32 321.06 337.44 321.44 338.55 321.81 C339.66 322.18 340.78 322.55 341.89 322.92 C343.00 323.29 344.12 323.65 345.23 324.02 C346.35 324.38 347.46 324.74 348.58 325.10 C349.69 325.46 350.81 325.82 351.93 326.17 C353.04 326.53 354.16 326.88 355.28 327.23 C356.39 327.58 357.51 327.93 358.63 328.27 C359.74 328.62 360.86 328.96 361.98 329.31 C363.09 329.65 364.21 329.99 365.33 330.33 C366.44 330.67 367.56 330.98 368.68 331.34 C369.79 331.70 371.45 332.31 372.00 332.50 L318.50 332.50 C318.13 332.22 317.07 331.34 316.30 330.85 C315.53 330.36 314.69 329.99 313.89 329.56 C313.09 329.13 312.28 328.70 311.48 328.27 C310.68 327.84 309.87 327.41 309.07 326.98 C308.27 326.55 307.47 326.12 306.66 325.69 C305.86 325.25 305.06 324.82 304.26 324.39 C303.45 323.96 302.65 323.52 301.85 323.09 C301.05 322.66 300.24 322.22 299.44 321.79 C298.64 321.35 297.84 320.92 297.04 320.48 C296.24 320.04 295.44 319.61 294.64 319.17 C293.84 318.73 293.04 318.29 292.24 317.86 C291.44 317.42 290.64 316.98 289.84 316.53 C289.04 316.09 288.24 315.65 287.45 315.21 C286.65 314.77 285.85 314.32 285.06 313.88 C284.26 313.43 283.46 312.99 282.67 312.54 C281.88 312.09 281.08 311.64 280.29 311.19 C279.49 310.74 278.70 310.29 277.91 309.84 C277.12 309.39 276.33 308.93 275.54 308.48 C274.75 308.02 273.96 307.57 273.17 307.11 C272.38 306.65 271.60 306.19 270.81 305.73 C270.02 305.27 269.24 304.81 268.45 304.34 C267.67 303.88 266.89 303.41 266.11 302.95 C265.32 302.48 264.54 302.01 263.76 301.54 C262.98 301.07 262.21 300.60 261.43 300.12 C260.65 299.65 259.88 299.17 259.10 298.69 C258.33 298.21 257.55 297.73 256.78 297.25 C256.01 296.77 255.24 296.29 254.47 295.80 C253.70 295.31 252.94 294.83 252.17 294.33 C251.40 293.84 250.64 293.35 249.88 292.86 C249.11 292.36 248.35 291.87 247.59 291.37 C246.83 290.87 246.08 290.36 245.32 289.86 C244.56 289.36 243.81 288.85 243.06 288.34 C242.30 287.83 241.55 287.32 240.80 286.81 C240.05 286.29 239.31 285.78 238.56 285.26 C237.82 284.74 237.07 284.22 236.33 283.69 C235.59 283.17 234.85 282.64 234.11 282.11 C233.37 281.58 232.64 281.05 231.90 280.52 C231.17 279.98 230.44 279.44 229.71 278.90 C228.98 278.36 228.25 277.82 227.53 277.27 C226.80 276.72 226.08 276.17 225.36 275.62 C224.64 275.07 223.92 274.51 223.20 273.95 C222.49 273.39 221.77 272.83 221.06 272.27 C220.35 271.70 219.64 271.13 218.94 270.56 C218.23 269.99 217.53 269.41 216.82 268.84 C216.12 268.26 215.42 267.68 214.73 267.09 C214.03 266.51 213.34 265.92 212.65 265.32 C211.95 264.73 211.27 264.14 210.58 263.54 C209.89 262.94 209.21 262.33 208.53 261.73 C207.85 261.12 207.17 260.51 206.50 259.90 C205.82 259.28 205.15 258.67 204.48 258.04 C203.81 257.42 203.14 256.80 202.48 256.17 C201.82 255.54 201.16 254.91 200.50 254.27 C199.84 253.63 199.19 252.99 198.53 252.35 C197.88 251.70 197.23 251.05 196.59 250.40 C195.94 249.74 195.30 249.09 194.66 248.43 C194.02 247.76 193.39 247.10 192.75 246.43 C192.12 245.76 191.49 245.08 190.87 244.41 C190.24 243.73 189.65 242.99 189.00 242.36 C188.34 241.73 187.57 241.20 186.92 240.62 C186.28 240.03 185.74 239.43 185.14 238.83 C184.55 238.24 183.96 237.63 183.37 237.03 C182.78 236.43 182.19 235.82 181.60 235.22 C181.02 234.61 180.44 234.00 179.85 233.39 C179.27 232.78 178.69 232.17 178.12 231.55 C177.54 230.94 176.97 230.32 176.39 229.70 C175.82 229.08 175.25 228.46 174.68 227.84 C174.11 227.22 173.55 226.60 172.98 225.97 C172.42 225.34 171.86 224.72 171.30 224.09 C170.74 223.46 170.18 222.83 169.62 222.19 C169.07 221.56 168.52 220.92 167.97 220.28 C167.42 219.64 166.88 218.99 166.33 218.35 C165.79 217.70 165.25 217.06 164.71 216.41 C164.17 215.76 163.63 215.11 163.10 214.46 C162.56 213.81 162.03 213.16 161.50 212.50 C160.97 211.85 160.44 211.19 159.92 210.53 C159.39 209.87 158.87 209.21 158.34 208.55 C157.82 207.89 157.30 207.23 156.78 206.56 C156.27 205.90 155.75 205.23 155.24 204.56 C154.72 203.89 154.21 203.22 153.70 202.55 C153.19 201.88 152.68 201.21 152.18 200.53 C151.67 199.86 151.17 199.18 150.67 198.50 C150.16 197.82 149.66 197.15 149.17 196.46 C148.67 195.78 148.18 195.10 147.68 194.41 C147.19 193.73 146.70 193.04 146.21 192.35 C145.73 191.67 145.24 190.98 144.76 190.29 C144.27 189.60 143.79 188.90 143.31 188.21 C142.83 187.51 142.35 186.82 141.88 186.12 C141.40 185.42 140.93 184.72 140.46 184.02 C139.99 183.32 139.52 182.62 139.06 181.92 C138.59 181.21 138.13 180.51 137.66 179.80 C137.20 179.10 136.74 178.39 136.28 177.68 C135.83 176.97 135.37 176.26 134.92 175.55 C134.46 174.84 134.01 174.12 133.56 173.41 C133.11 172.69 132.66 171.98 132.21 171.26 C131.77 170.54 131.32 169.83 130.87 169.11 C130.42 168.40 129.98 167.68 129.53 166.96 C129.09 166.24 128.65 165.52 128.21 164.80 C127.77 164.08 127.11 162.99 126.89 162.63 Z" fill="#a6eaa6" fill-opacity="0.6" stroke="none"/>
<path d="M128.89 161.39 C129.11 161.75 129.80 162.81 130.25 163.52 C130.71 164.22 131.17 164.93 131.63 165.63 C132.09 166.33 132.55 167.03 133.01 167.73 C133.48 168.43 133.94 169.13 134.42 169.83 C134.89 170.52 135.36 171.21 135.84 171.90 C136.32 172.59 136.80 173.28 137.28 173.97 C137.76 174.66 138.24 175.35 138.72 176.03 C139.21 176.72 139.69 177.40 140.18 178.08 C140.67 178.76 141.16 179.44 141.65 180.12 C142.14 180.80 142.63 181.48 143.13 182.16 C143.62 182.83 144.12 183.51 144.62 184.18 C145.11 184.85 145.61 185.52 146.11 186.19 C146.62 186.86 147.12 187.53 147.62 188.20 C148.13 188.87 148.63 189.54 149.14 190.20 C149.65 190.86 150.16 191.53 150.67 192.19 C151.18 192.85 151.70 193.51 152.21 194.17 C152.73 194.83 153.24 195.48 153.76 196.14 C154.28 196.79 154.80 197.45 155.32 198.10 C155.84 198.75 156.36 199.40 156.89 200.05 C157.41 200.70 157.94 201.35 158.47 201.99 C159.00 202.64 159.53 203.28 160.06 203.92 C160.60 204.56 161.13 205.20 161.67 205.84 C162.20 206.48 162.74 207.12 163.28 207.75 C163.82 208.39 164.37 209.02 164.91 209.65 C165.46 210.28 166.00 210.91 166.55 211.54 C167.10 212.17 167.65 212.79 168.20 213.42 C168.75 214.04 169.30 214.66 169.86 215.28 C170.42 215.90 170.97 216.52 171.53 217.14 C172.09 217.76 172.65 218.37 173.21 218.99 C173.77 219.60 174.33 220.22 174.90 220.83 C175.46 221.45 176.02 222.06 176.59 222.67 C177.16 223.27 177.73 223.88 178.30 224.49 C178.87 225.09 179.44 225.70 180.01 226.30 C180.59 226.90 181.17 227.50 181.74 228.10 C182.32 228.69 182.90 229.29 183.49 229.88 C184.07 230.48 184.65 231.07 185.24 231.66 C185.83 232.25 186.41 232.83 187.00 233.42 C187.59 234.01 188.19 234.59 188.78 235.17 C189.38 235.75 189.82 236.27 190.58 236.92 C191.33 237.56 192.44 238.27 193.31 239.05 C194.19 239.82 194.98 240.75 195.82 241.59 C196.66 242.43 197.50 243.26 198.35 244.09 C199.20 244.91 200.06 245.73 200.92 246.54 C201.78 247.35 202.64 248.16 203.51 248.95 C204.38 249.75 205.26 250.54 206.14 251.32 C207.02 252.11 207.90 252.88 208.79 253.65 C209.68 254.42 210.58 255.18 211.48 255.94 C212.37 256.69 213.28 257.44 214.19 258.18 C215.09 258.93 216.01 259.66 216.92 260.39 C217.84 261.12 218.76 261.84 219.69 262.56 C220.61 263.27 221.54 263.98 222.48 264.68 C223.41 265.39 224.35 266.08 225.29 266.77 C226.23 267.46 227.18 268.15 228.13 268.83 C229.08 269.50 230.03 270.18 230.99 270.84 C231.95 271.51 232.91 272.17 233.88 272.82 C234.85 273.47 235.82 274.12 236.79 274.76 C237.76 275.41 238.74 276.04 239.72 276.67 C240.70 277.30 241.69 277.93 242.68 278.55 C243.66 279.17 244.66 279.78 245.65 280.39 C246.65 280.99 247.65 281.60 248.65 282.19 C249.65 282.79 250.66 283.38 251.66 283.97 C252.67 284.55 253.69 285.13 254.70 285.71 C255.72 286.29 256.73 286.86 257.75 287.42 C258.78 287.99 259.80 288.55 260.83 289.10 C261.86 289.66 262.89 290.21 263.92 290.75 C264.95 291.30 265.99 291.84 267.03 292.37 C268.07 292.91 269.11 293.44 270.15 293.96 C271.19 294.49 272.24 295.01 273.29 295.53 C274.34 296.04 275.39 296.56 276.45 297.06 C277.50 297.57 278.56 298.07 279.62 298.57 C280.68 299.07 281.74 299.57 282.80 300.05 C283.87 300.54 284.93 301.03 286.00 301.51 C287.07 301.99 288.14 302.47 289.21 302.94 C290.28 303.42 291.36 303.88 292.44 304.35 C293.51 304.81 294.59 305.28 295.67 305.73 C296.75 306.19 297.83 306.64 298.92 307.09 C300.00 307.54 301.09 307.99 302.18 308.43 C303.26 308.87 304.35 309.31 305.44 309.74 C306.53 310.18 307.63 310.61 308.72 311.04 C309.81 311.46 310.91 311.89 312.01 312.31 C313.10 312.73 314.20 313.15 315.30 313.56 C316.40 313.97 317.50 314.39 318.60 314.79 C319.71 315.20 320.81 315.61 321.91 316.01 C323.02 316.41 324.12 316.81 325.23 317.20 C326.34 317.60 327.44 317.99 328.55 318.38 C329.66 318.77 330.77 319.15 331.88 319.54 C332.99 319.92 334.10 320.30 335.21 320.68 C336.32 321.06 337.44 321.44 338.55 321.81 C339.66 322.18 340.78 322.55 341.89 322.92 C343.00 323.29 344.12 323.65 345.23 324.02 C346.35 324.38 347.46 324.74 348.58 325.10 C349.69 325.46 350.81 325.82 351.93 326.17 C353.04 326.53 354.16 326.88 355.28 327.23 C356.39 327.58 357.51 327.93 358.63 328.27 C359.74 328.62 360.86 328.96 361.98 329.31 C363.09 329.65 364.21 329.99 365.33 330.33 C366.44 330.67 367.56 330.98 368.68 331.34 C369.79 331.70 371.45 332.31 372.00 332.50" fill="none" stroke="#55dd55" stroke-width="1.25" stroke-dasharray="1.2 1.6"/>
<path d="M126.89 162.63 C127.11 162.99 127.77 164.08 128.21 164.80 C128.65 165.52 129.09 166.24 129.53 166.96 C129.98 167.68 130.42 168.40 130.87 169.11 C131.32 169.83 131.77 170.54 132.21 171.26 C132.66 171.98 133.11 172.69 133.56 173.41 C134.01 174.12 134.46 174.84 134.92 175.55 C135.37 176.26 135.83 176.97 136.28 177.68 C136.74 178.39 137.20 179.10 137.66 179.80 C138.13 180.51 138.59 181.21 139.06 181.92 C139.52 182.62 139.99 183.32 140.46 184.02 C140.93 184.72 141.40 185.42 141.88 186.12 C142.35 186.82 142.83 187.51 143.31 188.21 C143.79 188.90 144.27 189.60 144.76 190.29 C145.24 190.98 145.73 191.67 146.21 192.35 C146.70 193.04 147.19 193.73 147.68 194.41 C148.18 195.10 148.67 195.78 149.17 196.46 C149.66 197.15 150.16 197.82 150.67 198.50 C151.17 199.18 151.67 199.86 152.18 200.53 C152.68 201.21 153.19 201.88 153.70 202.55 C154.21 203.22 154.72 203.89 155.24 204.56 C155.75 205.23 156.27 205.90 156.78 206.56 C157.30 207.23 157.82 207.89 158.34 208.55 C158.87 209.21 159.39 209.87 159.92 210.53 C160.44 211.19 160.97 211.85 161.50 212.50 C162.03 213.16 162.56 213.81 163.10 214.46 C163.63 215.11 164.17 215.76 164.71 216.41 C165.25 217.06 165.79 217.70 166.33 218.35 C166.88 218.99 167.42 219.64 167.97 220.28 C168.52 220.92 169.07 221.56 169.62 222.19 C170.18 222.83 170.74 223.46 171.30 224.09 C171.86 224.72 172.42 225.34 172.98 225.97 C173.55 226.60 174.11 227.22 174.68 227.84 C175.25 228.46 175.82 229.08 176.39 229.70 C176.97 230.32 177.54 230.94 178.12 231.55 C178.69 232.17 179.27 232.78 179.85 233.39 C180.44 234.00 181.02 234.61 181.60 235.22 C182.19 235.82 182.78 236.43 183.37 237.03 C183.96 237.63 184.55 238.24 185.14 238.83 C185.74 239.43 186.28 240.03 186.92 240.62 C187.57 241.20 188.34 241.73 189.00 242.36 C189.65 242.99 190.24 243.73 190.87 244.41 C191.49 245.08 192.12 245.76 192.75 246.43 C193.39 247.10 194.02 247.76 194.66 248.43 C195.30 249.09 195.94 249.74 196.59 250.40 C197.23 251.05 197.88 251.70 198.53 252.35 C199.19 252.99 199.84 253.63 200.50 254.27 C201.16 254.91 201.82 255.54 202.48 256.17 C203.14 256.80 203.81 257.42 204.48 258.04 C205.15 258.67 205.82 259.28 206.50 259.90 C207.17 260.51 207.85 261.12 208.53 261.73 C209.21 262.33 209.89 262.94 210.58 263.54 C211.27 264.14 211.95 264.73 212.65 265.32 C213.34 265.92 214.03 266.51 214.73 267.09 C215.42 267.68 216.12 268.26 216.82 268.84 C217.53 269.41 218.23 269.99 218.94 270.56 C219.64 271.13 220.35 271.70 221.06 272.27 C221.77 272.83 222.49 273.39 223.20 273.95 C223.92 274.51 224.64 275.07 225.36 275.62 C226.08 276.17 226.80 276.72 227.53 277.27 C228.25 277.82 228.98 278.36 229.71 278.90 C230.44 279.44 231.17 279.98 231.90 280.52 C232.64 281.05 233.37 281.58 234.11 282.11 C234.85 282.64 235.59 283.17 236.33 283.69 C237.07 284.22 237.82 284.74 238.56 285.26 C239.31 285.78 240.05 286.29 240.80 286.81 C241.55 287.32 242.30 287.83 243.06 288.34 C243.81 288.85 244.56 289.36 245.32 289.86 C246.08 290.36 246.83 290.87 247.59 291.37 C248.35 291.87 249.11 292.36 249.88 292.86 C250.64 293.35 251.40 293.84 252.17 294.33 C252.94 294.83 253.70 295.31 254.47 295.80 C255.24 296.29 256.01 296.77 256.78 297.25 C257.55 297.73 258.33 298.21 259.10 298.69 C259.88 299.17 260.65 299.65 261.43 300.12 C262.21 300.60 262.98 301.07 263.76 301.54 C264.54 302.01 265.32 302.48 266.11 302.95 C266.89 303.41 267.67 303.88 268.45 304.34 C269.24 304.81 270.02 305.27 270.81 305.73 C271.60 306.19 272.38 306.65 273.17 307.11 C273.96 307.57 274.75 308.02 275.54 308.48 C276.33 308.93 277.12 309.39 277.91 309.84 C278.70 310.29 279.49 310.74 280.29 311.19 C281.08 311.64 281.88 312.09 282.67 312.54 C283.46 312.99 284.26 313.43 285.06 313.88 C285.85 314.32 286.65 314.77 287.45 315.21 C288.24 315.65 289.04 316.09 289.84 316.53 C290.64 316.98 291.44 317.42 292.24 317.86 C293.04 318.29 293.84 318.73 294.64 319.17 C295.44 319.61 296.24 320.04 297.04 320.48 C297.84 320.92 298.64 321.35 299.44 321.79 C300.24 322.22 301.05 322.66 301.85 323.09 C302.65 323.52 303.45 323.96 304.26 324.39 C305.06 324.82 305.86 325.25 306.66 325.69 C307.47 326.12 308.27 326.55 309.07 326.98 C309.87 327.41 310.68 327.84 311.48 328.27 C312.28 328.70 313.09 329.13 313.89 329.56 C314.69 329.99 315.53 330.36 316.30 330.85 C317.07 331.34 318.13 332.22 318.50 332.50" fill="none" stroke="#55dd55" stroke-width="1.25" stroke-dasharray="1.2 1.6"/>
<path d="M261.50 291.80 C261.86 291.75 262.93 291.53 263.65 291.48 C264.37 291.42 265.10 291.49 265.83 291.49 C266.56 291.49 267.28 291.50 268.01 291.50 C268.74 291.50 269.46 291.49 270.19 291.49 C270.92 291.48 271.64 291.47 272.37 291.46 C273.10 291.45 273.82 291.43 274.55 291.41 C275.27 291.39 276.00 291.37 276.73 291.33 C277.45 291.30 278.17 291.27 278.90 291.23 C279.62 291.18 280.34 291.14 281.07 291.08 C281.79 291.03 282.51 290.96 283.23 290.90 C283.95 290.83 284.67 290.75 285.39 290.67 C286.11 290.58 286.82 290.49 287.54 290.39 C288.26 290.29 288.97 290.18 289.69 290.07 C290.40 289.96 291.11 289.84 291.83 289.71 C292.54 289.59 293.25 289.45 293.96 289.31 C294.68 289.18 295.39 289.03 296.10 288.89 C296.81 288.74 297.51 288.58 298.22 288.43 C298.93 288.27 299.64 288.11 300.35 287.94 C301.05 287.78 301.76 287.61 302.47 287.44 C303.17 287.26 303.88 287.09 304.58 286.91 C305.29 286.73 305.99 286.55 306.70 286.37 C307.40 286.19 308.11 286.01 308.81 285.82 C309.52 285.64 310.22 285.45 310.92 285.26 C311.62 285.08 312.33 284.89 313.03 284.70 C313.73 284.51 314.44 284.32 315.14 284.13 C315.84 283.94 316.54 283.75 317.24 283.55 C317.94 283.36 318.65 283.17 319.35 282.98 C320.05 282.78 320.75 282.59 321.45 282.39 C322.15 282.20 322.85 282.00 323.55 281.81 C324.25 281.61 324.95 281.41 325.65 281.22 C326.35 281.02 327.05 280.82 327.75 280.62 C328.45 280.42 329.15 280.23 329.85 280.03 C330.55 279.83 331.25 279.63 331.95 279.43 C332.65 279.23 333.35 279.03 334.04 278.83 C334.74 278.63 335.44 278.42 336.14 278.22 C336.84 278.02 337.54 277.82 338.24 277.62 C338.93 277.42 339.63 277.22 340.33 277.01 C341.03 276.81 341.73 276.61 342.43 276.41 C343.12 276.20 343.82 276.00 344.52 275.80 C345.22 275.60 345.92 275.39 346.62 275.19 C347.31 274.99 348.01 274.79 348.71 274.58 C349.41 274.38 350.11 274.18 350.80 273.98 C351.50 273.78 352.20 273.57 352.90 273.37 C353.60 273.17 354.30 272.97 354.99 272.77 C355.69 272.57 356.39 272.36 357.09 272.16 C357.79 271.96 358.49 271.76 359.18 271.56 C359.88 271.36 360.58 271.16 361.28 270.96 C361.98 270.76 362.68 270.56 363.38 270.36 C364.08 270.17 364.78 269.97 365.48 269.77 C366.17 269.57 366.87 269.37 367.57 269.18 C368.27 268.98 368.97 268.78 369.67 268.59 C370.37 268.39 371.07 268.20 371.77 268.00 C372.47 267.81 373.17 267.62 373.87 267.42 C374.57 267.23 375.28 267.04 375.98 266.85 C376.68 266.66 377.38 266.47 378.08 266.28 C378.78 266.09 379.48 265.90 380.19 265.71 C380.89 265.52 381.59 265.34 382.29 265.15 C382.99 264.96 383.70 264.79 384.40 264.59 C385.10 264.40 386.15 264.10 386.50 264.00 L386.50 274.00 C386.15 274.10 385.10 274.43 384.40 274.62 C383.69 274.81 382.98 274.97 382.27 275.15 C381.56 275.33 380.86 275.51 380.15 275.70 C379.44 275.88 378.73 276.06 378.03 276.25 C377.32 276.43 376.62 276.62 375.91 276.81 C375.20 277.00 374.50 277.18 373.79 277.37 C373.09 277.56 372.38 277.76 371.68 277.95 C370.97 278.14 370.27 278.33 369.56 278.53 C368.86 278.72 368.15 278.91 367.45 279.11 C366.75 279.31 366.04 279.50 365.34 279.70 C364.64 279.90 363.93 280.09 363.23 280.29 C362.53 280.49 361.82 280.69 361.12 280.89 C360.42 281.09 359.71 281.29 359.01 281.49 C358.31 281.69 357.60 281.89 356.90 282.09 C356.20 282.29 355.49 282.49 354.79 282.69 C354.09 282.89 353.39 283.09 352.68 283.29 C351.98 283.49 351.28 283.69 350.58 283.89 C349.87 284.09 349.17 284.29 348.47 284.49 C347.76 284.69 347.06 284.89 346.36 285.09 C345.65 285.29 344.95 285.49 344.25 285.69 C343.54 285.89 342.84 286.09 342.14 286.28 C341.43 286.48 340.73 286.68 340.03 286.87 C339.32 287.07 338.62 287.27 337.91 287.46 C337.21 287.65 336.50 287.85 335.80 288.04 C335.09 288.23 334.39 288.43 333.68 288.62 C332.98 288.81 332.27 289.00 331.57 289.19 C330.86 289.38 330.15 289.56 329.45 289.75 C328.74 289.94 328.04 290.12 327.33 290.31 C326.62 290.49 325.91 290.67 325.21 290.85 C324.50 291.03 323.79 291.21 323.08 291.39 C322.37 291.57 321.66 291.75 320.95 291.92 C320.24 292.09 319.53 292.27 318.82 292.44 C318.11 292.61 317.40 292.78 316.69 292.95 C315.98 293.11 315.27 293.28 314.56 293.44 C313.84 293.61 313.13 293.77 312.42 293.93 C311.70 294.08 310.99 294.24 310.28 294.40 C309.56 294.55 308.85 294.70 308.13 294.85 C307.42 295.00 306.70 295.15 305.98 295.30 C305.27 295.44 304.55 295.58 303.83 295.72 C303.11 295.86 302.39 296.00 301.67 296.14 C300.95 296.27 300.23 296.40 299.51 296.53 C298.79 296.66 298.07 296.79 297.35 296.91 C296.63 297.03 295.90 297.15 295.18 297.27 C294.46 297.39 293.73 297.50 293.01 297.60 C292.28 297.71 291.56 297.81 290.84 297.89 C290.11 297.98 289.39 298.07 288.66 298.13 C287.94 298.20 287.21 298.26 286.49 298.31 C285.77 298.35 285.04 298.39 284.32 298.41 C283.60 298.42 282.88 298.43 282.16 298.42 C281.44 298.40 280.72 298.37 280.00 298.32 C279.29 298.27 278.57 298.20 277.85 298.11 C277.14 298.02 276.43 297.91 275.72 297.78 C275.01 297.65 274.30 297.49 273.59 297.31 C272.88 297.12 272.18 296.92 271.48 296.69 C270.78 296.46 270.08 296.20 269.39 295.93 C268.70 295.65 268.01 295.35 267.33 295.03 C266.65 294.72 265.98 294.38 265.32 294.02 C264.65 293.67 263.99 293.27 263.35 292.90 C262.72 292.53 261.81 291.98 261.50 291.80 Z" fill="#c3c3f3" fill-opacity="0.9" stroke="#8b8be8" stroke-width="0.8"/>
<path d="M52.00 67.00 C52.17 67.82 52.58 70.35 53.01 71.94 C53.44 73.53 54.05 75.02 54.57 76.55 C55.10 78.09 55.63 79.63 56.16 81.16 C56.70 82.70 57.23 84.23 57.78 85.77 C58.32 87.30 58.87 88.84 59.43 90.37 C59.98 91.90 60.54 93.44 61.10 94.97 C61.67 96.50 62.23 98.03 62.81 99.56 C63.38 101.09 63.96 102.62 64.54 104.15 C65.13 105.68 65.72 107.21 66.31 108.73 C66.90 110.26 67.50 111.78 68.11 113.31 C68.71 114.83 69.32 116.35 69.94 117.87 C70.55 119.39 71.17 120.91 71.80 122.43 C72.42 123.94 73.05 125.46 73.69 126.97 C74.33 128.48 74.97 130.00 75.62 131.51 C76.27 133.01 76.92 134.52 77.58 136.03 C78.24 137.53 78.90 139.04 79.57 140.54 C80.24 142.04 80.92 143.53 81.60 145.03 C82.28 146.53 82.97 148.02 83.66 149.51 C84.36 151.00 85.05 152.49 85.76 153.97 C86.46 155.46 87.18 156.94 87.89 158.42 C88.61 159.90 89.33 161.38 90.06 162.85 C90.79 164.32 91.53 165.79 92.27 167.26 C93.01 168.73 93.76 170.19 94.51 171.65 C95.27 173.11 96.03 174.57 96.79 176.02 C97.56 177.48 98.33 178.93 99.11 180.37 C99.89 181.82 100.68 183.26 101.47 184.70 C102.26 186.14 103.06 187.57 103.87 189.01 C104.67 190.44 105.48 191.86 106.30 193.29 C107.12 194.71 107.95 196.13 108.78 197.54 C109.61 198.96 110.45 200.37 111.29 201.77 C112.14 203.18 112.99 204.58 113.85 205.98 C114.71 207.37 115.58 208.77 116.45 210.15 C117.32 211.54 118.20 212.92 119.09 214.30 C119.98 215.68 120.87 217.05 121.77 218.42 C122.67 219.79 123.58 221.15 124.50 222.51 C125.41 223.86 126.33 225.22 127.26 226.56 C128.19 227.91 129.13 229.25 130.08 230.59 C131.02 231.92 131.97 233.26 132.93 234.58 C133.89 235.91 134.86 237.22 135.83 238.54 C136.81 239.85 137.79 241.16 138.78 242.46 C139.77 243.76 140.76 245.06 141.77 246.35 C142.77 247.64 143.78 248.92 144.80 250.20 C145.82 251.48 146.85 252.75 147.89 254.01 C148.92 255.28 149.96 256.54 151.02 257.79 C152.07 259.04 153.13 260.29 154.19 261.53 C155.26 262.76 156.33 264.00 157.42 265.22 C158.50 266.45 159.59 267.67 160.69 268.88 C161.79 270.09 162.90 271.29 164.01 272.49 C165.13 273.69 166.25 274.88 167.38 276.06 C168.51 277.24 169.65 278.42 170.80 279.59 C171.95 280.75 173.11 281.91 174.27 283.07 C175.44 284.22 176.61 285.37 177.79 286.50 C178.98 287.64 180.17 288.77 181.37 289.89 C182.57 291.02 183.77 292.13 184.99 293.24 C186.21 294.34 187.43 295.44 188.66 296.53 C189.90 297.62 191.14 298.70 192.39 299.77 C193.64 300.85 194.90 301.91 196.17 302.97 C197.44 304.03 198.70 305.11 200.01 306.11 C201.31 307.12 203.33 308.52 204.00 309.00" fill="none" stroke="#8c8cf0" stroke-width="2"/>
<path d="M194.5 300.5 C197 300.5 203.5 304.5 205.3 308.8 C202 309.8 196 304.5 194.5 300.5 Z" fill="#b9b9f5" stroke="#8c8cf0" stroke-width="0.8"/>
<path d="M166.10 11.50 C166.38 11.95 167.23 13.29 167.78 14.19 C168.33 15.10 168.86 16.02 169.41 16.94 C169.95 17.85 170.50 18.76 171.05 19.67 C171.60 20.57 172.16 21.48 172.71 22.39 C173.27 23.29 173.83 24.19 174.39 25.09 C174.95 26.00 175.52 26.89 176.09 27.79 C176.65 28.69 177.22 29.58 177.80 30.48 C178.37 31.37 178.95 32.26 179.53 33.15 C180.10 34.04 180.69 34.93 181.27 35.82 C181.85 36.70 182.44 37.59 183.03 38.47 C183.62 39.35 184.21 40.23 184.81 41.11 C185.40 41.99 186.00 42.87 186.60 43.74 C187.20 44.62 187.80 45.49 188.41 46.36 C189.01 47.23 189.62 48.10 190.23 48.97 C190.84 49.83 191.45 50.70 192.07 51.56 C192.68 52.43 193.30 53.29 193.92 54.15 C194.54 55.01 195.17 55.87 195.79 56.72 C196.42 57.58 197.05 58.43 197.68 59.29 C198.31 60.14 198.94 60.99 199.58 61.84 C200.21 62.68 200.85 63.53 201.49 64.38 C202.13 65.22 202.78 66.06 203.42 66.90 C204.07 67.75 204.72 68.59 205.37 69.42 C206.02 70.26 206.67 71.09 207.33 71.93 C207.98 72.76 208.64 73.59 209.30 74.42 C209.96 75.25 210.62 76.08 211.29 76.91 C211.95 77.73 212.62 78.56 213.29 79.38 C213.96 80.20 214.63 81.02 215.31 81.84 C215.98 82.66 216.66 83.47 217.34 84.29 C218.02 85.10 218.70 85.91 219.38 86.72 C220.07 87.53 220.75 88.34 221.44 89.15 C222.13 89.96 222.82 90.76 223.51 91.56 C224.20 92.37 224.90 93.17 225.60 93.97 C226.29 94.77 226.99 95.56 227.69 96.36 C228.40 97.15 229.10 97.95 229.81 98.74 C230.51 99.53 231.22 100.32 231.93 101.11 C232.64 101.89 233.35 102.68 234.07 103.46 C234.78 104.25 235.50 105.03 236.22 105.81 C236.94 106.59 237.66 107.37 238.38 108.14 C239.11 108.92 239.83 109.69 240.56 110.46 C241.29 111.24 242.02 112.01 242.75 112.77 C243.48 113.54 244.21 114.31 244.95 115.07 C245.68 115.84 246.42 116.60 247.16 117.36 C247.90 118.12 248.64 118.88 249.39 119.64 C250.13 120.39 250.88 121.15 251.63 121.90 C252.37 122.65 253.12 123.40 253.88 124.15 C254.63 124.90 255.38 125.65 256.14 126.39 C256.89 127.14 257.65 127.88 258.41 128.62 C259.17 129.36 259.93 130.10 260.69 130.84 C261.46 131.58 262.22 132.31 262.99 133.04 C263.76 133.78 264.53 134.51 265.30 135.24 C266.07 135.97 266.84 136.69 267.62 137.42 C268.39 138.15 269.17 138.87 269.95 139.59 C270.72 140.31 271.50 141.03 272.29 141.75 C273.07 142.47 273.85 143.18 274.64 143.89 C275.42 144.61 276.21 145.32 277.00 146.03 C277.79 146.74 278.58 147.45 279.37 148.15 C280.17 148.86 280.96 149.56 281.76 150.26 C282.55 150.97 283.36 151.66 284.15 152.36 C284.94 153.07 286.11 154.14 286.50 154.50" fill="none" stroke="#8080e8" stroke-width="0.8"/>
<path d="M52.00 86.00 C52.41 87.01 53.63 90.05 54.44 92.08 C55.25 94.11 56.04 96.15 56.85 98.18 C57.66 100.21 58.48 102.23 59.31 104.25 C60.14 106.27 60.98 108.29 61.83 110.30 C62.68 112.31 63.54 114.32 64.40 116.32 C65.27 118.32 66.15 120.31 67.04 122.30 C67.92 124.29 68.82 126.27 69.73 128.25 C70.64 130.23 71.56 132.20 72.49 134.16 C73.42 136.13 74.37 138.08 75.32 140.03 C76.28 141.98 77.25 143.93 78.23 145.86 C79.21 147.80 80.20 149.73 81.21 151.65 C82.21 153.57 83.23 155.48 84.27 157.39 C85.30 159.29 86.35 161.19 87.41 163.08 C88.47 164.97 89.55 166.85 90.64 168.72 C91.73 170.59 92.84 172.45 93.96 174.30 C95.08 176.15 96.21 178.00 97.36 179.83 C98.52 181.67 99.68 183.49 100.86 185.31 C102.04 187.12 103.24 188.93 104.45 190.73 C105.66 192.52 106.88 194.31 108.12 196.09 C109.36 197.87 110.62 199.64 111.88 201.40 C113.15 203.15 114.44 204.90 115.73 206.64 C117.03 208.38 118.34 210.11 119.67 211.83 C121.00 213.55 122.34 215.26 123.70 216.95 C125.06 218.65 126.43 220.33 127.81 222.01 C129.20 223.68 130.60 225.34 132.02 226.99 C133.43 228.64 134.87 230.27 136.31 231.90 C137.76 233.52 139.22 235.13 140.70 236.72 C142.17 238.32 143.67 239.90 145.17 241.46 C146.68 243.03 148.20 244.58 149.74 246.12 C151.28 247.66 152.83 249.18 154.40 250.68 C155.97 252.19 157.56 253.68 159.16 255.15 C160.76 256.62 162.37 258.08 164.00 259.52 C165.63 260.96 167.28 262.38 168.94 263.78 C170.61 265.19 172.28 266.57 173.98 267.94 C175.67 269.31 177.38 270.66 179.10 271.99 C180.82 273.32 182.56 274.64 184.31 275.93 C186.06 277.23 187.83 278.50 189.61 279.76 C191.39 281.02 193.18 282.26 194.99 283.48 C196.79 284.70 198.61 285.90 200.45 287.08 C202.28 288.26 204.12 289.42 205.98 290.56 C207.84 291.71 209.71 292.83 211.59 293.93 C213.47 295.03 215.36 296.12 217.27 297.18 C219.17 298.24 221.09 299.28 223.01 300.30 C224.94 301.32 226.88 302.32 228.83 303.30 C230.78 304.28 232.73 305.24 234.70 306.18 C236.67 307.12 238.65 308.04 240.64 308.93 C242.63 309.83 244.62 310.70 246.63 311.55 C248.64 312.40 250.65 313.24 252.68 314.04 C254.70 314.85 256.74 315.64 258.78 316.40 C260.82 317.17 262.87 317.91 264.93 318.63 C266.98 319.35 269.05 320.05 271.12 320.72 C273.19 321.39 275.27 322.05 277.36 322.67 C279.44 323.30 281.54 323.91 283.64 324.49 C285.74 325.07 287.84 325.63 289.95 326.16 C292.06 326.70 294.18 327.21 296.30 327.70 C298.43 328.18 300.55 328.64 302.69 329.08 C304.82 329.52 306.96 329.94 309.10 330.33 C311.24 330.72 313.39 331.06 315.54 331.42 C317.69 331.78 320.92 332.32 322.00 332.50" fill="none" stroke="#222" stroke-width="0.8"/>
<path d="M221.30 267.50 C221.58 267.80 222.40 268.74 222.99 269.32 C223.58 269.90 224.22 270.44 224.84 270.98 C225.46 271.53 226.09 272.07 226.72 272.61 C227.35 273.14 227.98 273.67 228.62 274.19 C229.25 274.71 229.89 275.22 230.54 275.73 C231.18 276.24 231.83 276.75 232.48 277.24 C233.13 277.74 233.79 278.23 234.45 278.72 C235.10 279.20 235.77 279.68 236.43 280.15 C237.10 280.63 237.77 281.10 238.44 281.56 C239.11 282.02 239.79 282.48 240.46 282.93 C241.14 283.38 241.82 283.83 242.51 284.27 C243.19 284.71 243.88 285.15 244.57 285.58 C245.26 286.02 245.96 286.44 246.65 286.87 C247.35 287.29 248.05 287.71 248.75 288.12 C249.45 288.53 250.16 288.94 250.87 289.34 C251.57 289.75 252.28 290.15 253.00 290.54 C253.71 290.94 254.42 291.33 255.14 291.72 C255.86 292.11 256.58 292.49 257.30 292.87 C258.02 293.25 258.75 293.63 259.47 294.00 C260.20 294.37 260.93 294.74 261.66 295.11 C262.39 295.47 263.12 295.83 263.86 296.19 C264.59 296.55 265.33 296.90 266.07 297.26 C266.81 297.61 267.55 297.96 268.29 298.30 C269.03 298.65 269.78 298.99 270.52 299.33 C271.27 299.67 272.01 300.01 272.76 300.34 C273.51 300.68 274.26 301.01 275.01 301.34 C275.77 301.67 276.52 302.00 277.27 302.32 C278.03 302.65 278.78 302.97 279.54 303.29 C280.30 303.61 281.05 303.93 281.81 304.25 C282.57 304.57 283.33 304.88 284.09 305.19 C284.85 305.51 285.62 305.82 286.38 306.13 C287.14 306.44 287.90 306.75 288.67 307.05 C289.43 307.36 290.20 307.67 290.96 307.97 C291.73 308.28 292.50 308.58 293.26 308.88 C294.03 309.18 294.80 309.48 295.56 309.78 C296.33 310.08 297.10 310.38 297.87 310.68 C298.64 310.98 299.41 311.28 300.17 311.58 C300.94 311.88 301.71 312.17 302.48 312.47 C303.25 312.77 304.02 313.06 304.79 313.36 C305.56 313.66 306.33 313.95 307.10 314.25 C307.87 314.54 308.63 314.84 309.40 315.14 C310.17 315.43 310.94 315.73 311.71 316.03 C312.47 316.32 313.24 316.62 314.01 316.92 C314.78 317.22 315.54 317.52 316.31 317.82 C317.07 318.11 317.84 318.41 318.60 318.72 C319.37 319.02 320.13 319.32 320.90 319.62 C321.66 319.92 322.42 320.23 323.18 320.53 C323.94 320.84 324.70 321.14 325.46 321.45 C326.22 321.76 326.98 322.07 327.74 322.38 C328.49 322.69 329.25 323.00 330.00 323.32 C330.76 323.63 331.51 323.95 332.26 324.27 C333.02 324.59 333.77 324.91 334.52 325.23 C335.26 325.55 336.01 325.87 336.76 326.20 C337.50 326.53 338.25 326.86 338.99 327.19 C339.73 327.52 340.48 327.85 341.21 328.19 C341.95 328.53 342.69 328.87 343.43 329.21 C344.16 329.55 344.90 329.89 345.63 330.24 C346.36 330.59 347.09 330.92 347.81 331.30 C348.54 331.67 349.64 332.30 350.00 332.50" fill="none" stroke="#222" stroke-width="0.8"/>
<path d="M258.00 293.00 C258.23 293.13 258.94 293.53 259.41 293.81 C259.88 294.09 260.33 294.38 260.80 294.66 C261.26 294.95 261.73 295.23 262.19 295.51 C262.66 295.78 263.13 296.06 263.60 296.33 C264.07 296.60 264.54 296.87 265.01 297.14 C265.48 297.41 265.95 297.67 266.42 297.94 C266.90 298.20 267.37 298.46 267.85 298.72 C268.32 298.98 268.80 299.23 269.28 299.49 C269.75 299.74 270.23 299.99 270.71 300.24 C271.19 300.49 271.67 300.74 272.16 300.99 C272.64 301.23 273.12 301.47 273.60 301.72 C274.09 301.96 274.57 302.20 275.06 302.44 C275.54 302.67 276.03 302.91 276.51 303.14 C277.00 303.38 277.49 303.61 277.98 303.84 C278.47 304.07 278.95 304.30 279.44 304.53 C279.93 304.76 280.43 304.98 280.92 305.21 C281.41 305.43 281.90 305.65 282.39 305.88 C282.89 306.10 283.38 306.32 283.87 306.54 C284.37 306.76 284.86 306.97 285.36 307.19 C285.85 307.40 286.35 307.62 286.85 307.83 C287.34 308.05 287.84 308.26 288.34 308.47 C288.83 308.68 289.33 308.89 289.83 309.10 C290.33 309.31 290.83 309.52 291.33 309.73 C291.83 309.93 292.33 310.14 292.83 310.35 C293.33 310.55 293.83 310.76 294.33 310.96 C294.83 311.16 295.33 311.37 295.83 311.57 C296.33 311.77 296.84 311.97 297.34 312.17 C297.84 312.38 298.34 312.58 298.85 312.78 C299.35 312.98 299.85 313.18 300.35 313.37 C300.86 313.57 301.36 313.77 301.86 313.97 C302.37 314.17 302.87 314.37 303.37 314.56 C303.88 314.76 304.38 314.96 304.89 315.16 C305.39 315.35 305.89 315.55 306.40 315.75 C306.90 315.94 307.41 316.14 307.91 316.34 C308.41 316.53 308.92 316.73 309.42 316.93 C309.93 317.12 310.43 317.32 310.93 317.52 C311.44 317.71 311.94 317.91 312.45 318.11 C312.95 318.30 313.45 318.50 313.96 318.70 C314.46 318.90 314.96 319.09 315.47 319.29 C315.97 319.49 316.47 319.69 316.97 319.89 C317.48 320.09 317.98 320.29 318.48 320.49 C318.98 320.69 319.48 320.89 319.99 321.09 C320.49 321.29 320.99 321.49 321.49 321.69 C321.99 321.90 322.49 322.10 322.99 322.30 C323.49 322.51 323.99 322.71 324.49 322.92 C324.99 323.13 325.49 323.33 325.99 323.54 C326.48 323.75 326.98 323.96 327.48 324.17 C327.98 324.37 328.47 324.59 328.97 324.80 C329.46 325.01 329.96 325.22 330.46 325.44 C330.95 325.65 331.44 325.86 331.94 326.08 C332.43 326.30 332.93 326.52 333.42 326.73 C333.91 326.95 334.40 327.17 334.89 327.40 C335.38 327.62 335.87 327.84 336.36 328.07 C336.85 328.29 337.34 328.52 337.83 328.75 C338.32 328.97 338.81 329.20 339.29 329.44 C339.78 329.67 340.27 329.90 340.75 330.13 C341.23 330.37 341.72 330.61 342.20 330.84 C342.68 331.08 343.18 331.29 343.65 331.56 C344.11 331.84 344.77 332.34 345.00 332.50" fill="none" stroke="#333" stroke-width="0.7"/>
<path d="M63.20 11.50 C63.38 11.90 63.98 13.11 64.27 13.91 C64.56 14.71 64.72 15.51 64.95 16.31 C65.18 17.11 65.41 17.91 65.64 18.71 C65.87 19.51 66.10 20.31 66.34 21.11 C66.57 21.91 66.81 22.71 67.04 23.51 C67.28 24.30 67.52 25.10 67.76 25.90 C68.00 26.70 68.24 27.50 68.49 28.30 C68.73 29.10 68.98 29.90 69.22 30.70 C69.47 31.50 69.72 32.29 69.97 33.09 C70.22 33.89 70.47 34.69 70.72 35.49 C70.98 36.28 71.23 37.08 71.49 37.88 C71.75 38.68 72.00 39.47 72.26 40.27 C72.52 41.07 72.78 41.87 73.05 42.66 C73.31 43.46 73.58 44.25 73.84 45.05 C74.11 45.85 74.38 46.64 74.65 47.44 C74.91 48.23 75.19 49.03 75.46 49.82 C75.73 50.62 76.01 51.41 76.28 52.21 C76.56 53.00 76.84 53.79 77.11 54.59 C77.39 55.38 77.67 56.17 77.96 56.97 C78.24 57.76 78.52 58.55 78.81 59.34 C79.10 60.14 79.38 60.93 79.67 61.72 C79.96 62.51 80.25 63.30 80.54 64.09 C80.84 64.88 81.13 65.67 81.43 66.46 C81.72 67.25 82.02 68.04 82.32 68.82 C82.62 69.61 82.92 70.40 83.22 71.19 C83.52 71.98 83.83 72.76 84.14 73.55 C84.44 74.33 84.75 75.12 85.06 75.91 C85.37 76.69 85.68 77.48 85.99 78.26 C86.30 79.04 86.62 79.83 86.93 80.61 C87.25 81.39 87.57 82.18 87.89 82.96 C88.21 83.74 88.53 84.52 88.85 85.30 C89.17 86.08 89.50 86.86 89.82 87.64 C90.15 88.42 90.48 89.20 90.81 89.98 C91.14 90.76 91.47 91.53 91.80 92.31 C92.13 93.09 92.47 93.86 92.81 94.64 C93.14 95.41 93.48 96.19 93.82 96.96 C94.16 97.74 94.50 98.51 94.85 99.28 C95.19 100.05 95.53 100.83 95.88 101.60 C96.23 102.37 96.58 103.14 96.93 103.91 C97.28 104.68 97.63 105.45 97.98 106.21 C98.34 106.98 98.69 107.75 99.05 108.52 C99.41 109.28 99.77 110.05 100.13 110.81 C100.49 111.58 100.85 112.34 101.22 113.10 C101.58 113.87 101.95 114.63 102.32 115.39 C102.68 116.15 103.05 116.91 103.43 117.67 C103.80 118.43 104.17 119.19 104.55 119.95 C104.92 120.70 105.30 121.46 105.68 122.22 C106.05 122.97 106.44 123.73 106.82 124.48 C107.20 125.24 107.58 125.99 107.97 126.74 C108.36 127.49 108.74 128.24 109.13 128.99 C109.52 129.74 109.91 130.49 110.31 131.24 C110.70 131.99 111.09 132.74 111.49 133.48 C111.89 134.23 112.29 134.97 112.69 135.72 C113.09 136.46 113.49 137.20 113.89 137.95 C114.30 138.69 114.70 139.43 115.11 140.17 C115.52 140.91 115.93 141.65 116.34 142.38 C116.75 143.12 117.16 143.86 117.58 144.59 C117.99 145.33 118.41 146.06 118.83 146.80 C119.25 147.53 119.67 148.26 120.09 148.99 C120.51 149.72 120.94 150.45 121.36 151.18 C121.79 151.91 122.21 152.64 122.64 153.36 C123.07 154.09 123.51 154.81 123.94 155.54 C124.37 156.26 124.81 156.98 125.24 157.70 C125.68 158.42 126.12 159.14 126.56 159.86 C127.00 160.58 127.45 161.30 127.89 162.01 C128.33 162.73 128.78 163.44 129.23 164.16 C129.68 164.87 130.13 165.58 130.58 166.29 C131.03 167.01 131.49 167.71 131.94 168.42 C132.40 169.13 132.86 169.84 133.31 170.54 C133.77 171.25 134.24 171.95 134.70 172.66 C135.16 173.36 135.63 174.06 136.10 174.76 C136.56 175.46 137.03 176.16 137.50 176.85 C137.97 177.55 138.45 178.25 138.92 178.94 C139.40 179.64 139.87 180.33 140.35 181.02 C140.83 181.71 141.31 182.40 141.79 183.09 C142.28 183.78 142.76 184.46 143.25 185.15 C143.73 185.84 144.22 186.52 144.71 187.20 C145.20 187.88 145.70 188.56 146.19 189.24 C146.68 189.92 147.18 190.60 147.68 191.28 C148.18 191.95 148.68 192.63 149.18 193.30 C149.68 193.97 150.18 194.65 150.69 195.32 C151.19 195.99 151.70 196.65 152.21 197.32 C152.72 197.99 153.23 198.65 153.75 199.32 C154.26 199.98 154.78 200.64 155.29 201.30 C155.81 201.96 156.33 202.62 156.85 203.28 C157.37 203.93 157.90 204.59 158.42 205.24 C158.95 205.90 159.48 206.55 160.01 207.20 C160.54 207.85 161.07 208.50 161.60 209.14 C162.13 209.79 162.67 210.43 163.21 211.08 C163.74 211.72 164.28 212.36 164.82 213.00 C165.37 213.64 165.91 214.28 166.45 214.91 C167.00 215.55 167.55 216.18 168.10 216.82 C168.65 217.45 169.20 218.08 169.75 218.71 C170.30 219.34 170.86 219.96 171.42 220.59 C171.97 221.21 172.53 221.84 173.10 222.46 C173.66 223.08 174.22 223.70 174.79 224.32 C175.35 224.93 175.92 225.55 176.49 226.16 C177.06 226.78 177.63 227.39 178.20 228.00 C178.78 228.61 179.35 229.22 179.93 229.82 C180.51 230.43 181.09 231.03 181.67 231.64 C182.25 232.24 182.84 232.84 183.42 233.44 C184.01 234.04 184.60 234.63 185.19 235.23 C185.78 235.82 186.37 236.41 186.96 237.00 C187.56 237.59 188.15 238.18 188.75 238.77 C189.35 239.35 189.95 239.94 190.55 240.52 C191.15 241.10 191.76 241.68 192.37 242.26 C192.97 242.84 193.58 243.41 194.19 243.99 C194.80 244.56 195.41 245.13 196.03 245.70 C196.64 246.27 197.26 246.84 197.88 247.40 C198.50 247.97 199.12 248.53 199.74 249.09 C200.37 249.65 200.99 250.21 201.62 250.77 C202.25 251.32 202.88 251.88 203.51 252.43 C204.14 252.98 204.77 253.53 205.41 254.08 C206.05 254.63 206.68 255.17 207.32 255.72 C207.96 256.26 208.61 256.80 209.25 257.34 C209.90 257.88 210.54 258.41 211.19 258.95 C211.84 259.48 212.49 260.01 213.14 260.54 C213.80 261.07 214.45 261.60 215.11 262.12 C215.77 262.65 216.42 263.17 217.09 263.69 C217.75 264.21 218.41 264.73 219.08 265.25 C219.74 265.76 220.41 266.27 221.08 266.79 C221.75 267.30 222.42 267.81 223.10 268.31 C223.77 268.82 224.45 269.32 225.13 269.82 C225.80 270.32 226.49 270.82 227.17 271.32 C227.85 271.81 228.54 272.31 229.22 272.80 C229.91 273.29 230.60 273.78 231.29 274.27 C231.98 274.75 232.68 275.24 233.37 275.72 C234.07 276.20 234.77 276.68 235.47 277.16 C236.17 277.63 236.87 278.11 237.58 278.58 C238.28 279.05 238.99 279.52 239.70 279.99 C240.41 280.45 241.12 280.92 241.83 281.38 C242.54 281.84 243.26 282.30 243.98 282.75 C244.70 283.21 245.42 283.66 246.14 284.11 C246.86 284.56 247.58 285.01 248.31 285.46 C249.04 285.90 249.77 286.35 250.50 286.79 C251.23 287.23 251.96 287.66 252.70 288.10 C253.43 288.53 254.17 288.97 254.91 289.40 C255.65 289.83 256.39 290.36 257.14 290.68 C257.89 290.99 259.02 291.20 259.40 291.30" fill="none" stroke="#1c2f8c" stroke-width="1.1"/>
<path d="M63.20 11.50 C63.38 11.90 63.98 13.11 64.27 13.91 C64.56 14.71 64.72 15.51 64.95 16.31 C65.18 17.11 65.41 17.91 65.64 18.71 C65.87 19.51 66.10 20.31 66.34 21.11 C66.57 21.91 66.81 22.71 67.04 23.51 C67.28 24.30 67.52 25.10 67.76 25.90 C68.00 26.70 68.24 27.50 68.49 28.30 C68.73 29.10 68.98 29.90 69.22 30.70 C69.47 31.50 69.72 32.29 69.97 33.09 C70.22 33.89 70.47 34.69 70.72 35.49 C70.98 36.28 71.23 37.08 71.49 37.88 C71.75 38.68 72.00 39.47 72.26 40.27 C72.52 41.07 72.78 41.87 73.05 42.66 C73.31 43.46 73.58 44.25 73.84 45.05 C74.11 45.85 74.38 46.64 74.65 47.44 C74.91 48.23 75.19 49.03 75.46 49.82 C75.73 50.62 76.01 51.41 76.28 52.21 C76.56 53.00 76.84 53.79 77.11 54.59 C77.39 55.38 77.67 56.17 77.96 56.97 C78.24 57.76 78.52 58.55 78.81 59.34 C79.10 60.14 79.38 60.93 79.67 61.72 C79.96 62.51 80.25 63.30 80.54 64.09 C80.84 64.88 81.13 65.67 81.43 66.46 C81.72 67.25 82.02 68.04 82.32 68.82 C82.62 69.61 82.92 70.40 83.22 71.19 C83.52 71.98 83.83 72.76 84.14 73.55 C84.44 74.33 84.75 75.12 85.06 75.91 C85.37 76.69 85.68 77.48 85.99 78.26 C86.30 79.04 86.62 79.83 86.93 80.61 C87.25 81.39 87.57 82.18 87.89 82.96 C88.21 83.74 88.53 84.52 88.85 85.30 C89.17 86.08 89.50 86.86 89.82 87.64 C90.15 88.42 90.48 89.20 90.81 89.98 C91.14 90.76 91.47 91.53 91.80 92.31 C92.13 93.09 92.47 93.86 92.81 94.64 C93.14 95.41 93.48 96.19 93.82 96.96 C94.16 97.74 94.50 98.51 94.85 99.28 C95.19 100.05 95.53 100.83 95.88 101.60 C96.23 102.37 96.58 103.14 96.93 103.91 C97.28 104.68 97.63 105.45 97.98 106.21 C98.34 106.98 98.69 107.75 99.05 108.52 C99.41 109.28 99.77 110.05 100.13 110.81 C100.49 111.58 100.85 112.34 101.22 113.10 C101.58 113.87 102.13 115.01 102.32 115.39" fill="none" stroke="#35cc5a" stroke-width="1.2" stroke-dasharray="1.3 1.7" />
<path d="M52.00 79.00 C52.51 79.52 54.08 81.04 55.06 82.14 C56.03 83.24 56.91 84.45 57.86 85.59 C58.80 86.74 59.76 87.87 60.73 89.00 C61.69 90.13 62.67 91.26 63.66 92.37 C64.65 93.49 65.65 94.60 66.66 95.69 C67.67 96.79 68.69 97.89 69.72 98.97 C70.75 100.05 71.79 101.12 72.84 102.19 C73.89 103.25 74.95 104.31 76.02 105.36 C77.09 106.40 78.17 107.44 79.26 108.47 C80.34 109.50 81.44 110.52 82.55 111.52 C83.66 112.53 84.78 113.53 85.90 114.51 C87.03 115.50 88.17 116.48 89.31 117.44 C90.46 118.41 91.61 119.36 92.77 120.30 C93.94 121.25 95.11 122.18 96.29 123.10 C97.47 124.01 98.66 124.92 99.85 125.82 C101.05 126.71 102.26 127.59 103.47 128.46 C104.68 129.33 105.91 130.19 107.13 131.04 C108.36 131.88 109.60 132.71 110.85 133.53 C112.09 134.34 113.35 135.15 114.61 135.94 C115.87 136.73 117.14 137.50 118.42 138.27 C119.69 139.03 120.98 139.77 122.27 140.51 C123.56 141.24 124.86 141.96 126.16 142.66 C127.47 143.36 128.78 144.05 130.10 144.72 C131.42 145.39 132.74 146.05 134.07 146.69 C135.41 147.33 136.75 147.95 138.09 148.56 C139.44 149.16 140.79 149.76 142.15 150.33 C143.51 150.90 144.87 151.46 146.24 152.00 C147.61 152.54 148.99 153.06 150.37 153.57 C151.75 154.07 153.14 154.56 154.53 155.03 C155.93 155.50 157.33 155.95 158.73 156.38 C160.14 156.81 161.55 157.23 162.97 157.62 C164.38 158.02 165.80 158.39 167.23 158.75 C168.65 159.10 170.09 159.44 171.52 159.76 C172.96 160.08 174.40 160.37 175.84 160.65 C177.29 160.93 178.74 161.19 180.19 161.43 C181.65 161.68 183.10 161.90 184.57 162.10 C186.03 162.31 187.49 162.50 188.96 162.67 C190.43 162.84 191.90 162.99 193.37 163.12 C194.85 163.26 196.33 163.38 197.81 163.48 C199.29 163.58 200.77 163.67 202.25 163.74 C203.74 163.81 205.22 163.86 206.71 163.90 C208.20 163.94 209.69 163.96 211.18 163.97 C212.67 163.98 214.16 163.97 215.65 163.95 C217.15 163.93 218.64 163.89 220.13 163.84 C221.63 163.79 223.12 163.73 224.62 163.65 C226.11 163.57 227.61 163.48 229.10 163.38 C230.60 163.27 232.09 163.16 233.59 163.03 C235.08 162.90 236.57 162.76 238.07 162.60 C239.56 162.45 241.05 162.28 242.54 162.11 C244.03 161.93 245.51 161.74 247.00 161.54 C248.49 161.34 249.97 161.13 251.45 160.91 C252.93 160.69 254.41 160.46 255.89 160.22 C257.37 159.98 258.84 159.73 260.31 159.46 C261.79 159.20 263.25 158.93 264.72 158.65 C266.18 158.38 267.65 158.09 269.10 157.79 C270.56 157.50 272.01 157.19 273.46 156.88 C274.91 156.56 276.36 156.24 277.80 155.92 C279.24 155.59 280.66 155.15 282.11 154.91 C283.56 154.67 285.77 154.57 286.50 154.50" fill="none" stroke="#680c9c" stroke-width="1.5" stroke-dasharray="26 1.6 10.5 2 10.5 2 10.5 2 10.5 2 6 2 6 2 6 2 6 2 6 2 6 2 6 2 6 2 6 2 6 2 6 2 6 2 6 2 6 2 6 2 6 2 6 2 6 2 6 2 6 2 6 2 6 2 6 2 6 2 6 2 6 2 6 2 6 2 6 2 6 2"/>
<path d="M52.00 174.50 C52.24 174.76 52.95 175.54 53.42 176.06 C53.89 176.58 54.34 177.12 54.80 177.65 C55.26 178.18 55.72 178.71 56.18 179.24 C56.64 179.77 57.10 180.30 57.56 180.83 C58.01 181.36 58.47 181.90 58.93 182.43 C59.38 182.97 59.84 183.50 60.29 184.04 C60.75 184.57 61.20 185.11 61.65 185.65 C62.10 186.18 62.56 186.72 63.01 187.26 C63.46 187.79 63.91 188.33 64.36 188.87 C64.81 189.41 65.27 189.95 65.72 190.49 C66.17 191.03 66.61 191.57 67.06 192.11 C67.51 192.65 67.96 193.19 68.41 193.73 C68.86 194.27 69.31 194.81 69.76 195.36 C70.20 195.90 70.65 196.44 71.10 196.98 C71.55 197.52 72.00 198.07 72.44 198.61 C72.89 199.15 73.34 199.69 73.78 200.24 C74.23 200.78 74.68 201.32 75.13 201.86 C75.57 202.41 76.02 202.95 76.47 203.49 C76.91 204.03 77.36 204.58 77.81 205.12 C78.26 205.66 78.70 206.20 79.15 206.74 C79.60 207.29 80.05 207.83 80.50 208.37 C80.94 208.91 81.39 209.45 81.84 209.99 C82.29 210.54 82.74 211.08 83.19 211.62 C83.64 212.16 84.09 212.70 84.54 213.24 C84.99 213.78 85.44 214.32 85.89 214.86 C86.34 215.40 86.79 215.93 87.24 216.47 C87.70 217.01 88.15 217.55 88.60 218.08 C89.05 218.62 89.51 219.16 89.96 219.69 C90.42 220.23 90.87 220.76 91.33 221.30 C91.78 221.83 92.24 222.37 92.70 222.90 C93.16 223.43 93.61 223.97 94.07 224.50 C94.53 225.03 94.99 225.56 95.45 226.09 C95.91 226.62 96.37 227.15 96.84 227.68 C97.30 228.20 97.76 228.73 98.23 229.26 C98.69 229.78 99.16 230.31 99.62 230.83 C100.09 231.36 100.56 231.88 101.03 232.40 C101.50 232.92 101.97 233.44 102.44 233.96 C102.91 234.48 103.38 235.00 103.85 235.52 C104.33 236.04 104.80 236.55 105.28 237.07 C105.76 237.58 106.23 238.10 106.71 238.61 C107.19 239.12 107.67 239.63 108.15 240.14 C108.64 240.65 109.12 241.16 109.60 241.67 C110.09 242.17 110.57 242.68 111.06 243.18 C111.55 243.69 112.04 244.19 112.53 244.69 C113.02 245.19 113.51 245.69 114.01 246.19 C114.50 246.69 115.00 247.18 115.50 247.68 C115.99 248.17 116.49 248.66 116.99 249.16 C117.49 249.65 118.00 250.14 118.50 250.62 C119.01 251.11 119.51 251.60 120.02 252.08 C120.53 252.56 121.04 253.05 121.55 253.53 C122.07 254.01 122.58 254.49 123.10 254.96 C123.61 255.44 124.13 255.91 124.65 256.39 C125.17 256.86 125.70 257.33 126.22 257.80 C126.75 258.26 127.27 258.73 127.80 259.20 C128.33 259.66 128.86 260.12 129.40 260.58 C129.93 261.04 130.47 261.50 131.01 261.95 C131.54 262.41 132.09 262.86 132.63 263.31 C133.17 263.76 133.75 264.18 134.27 264.66 C134.78 265.14 135.46 265.94 135.70 266.20" fill="none" stroke="#680c9c" stroke-width="1.5" stroke-dasharray="6.3 1.7"/>
<path d="M135.80 266.30 C136.52 266.16 138.66 265.62 140.10 265.45 C141.55 265.28 143.00 265.34 144.45 265.30 C145.90 265.26 147.35 265.23 148.80 265.21 C150.24 265.19 151.69 265.18 153.13 265.18 C154.58 265.19 156.02 265.20 157.46 265.22 C158.91 265.25 160.35 265.28 161.79 265.32 C163.23 265.36 164.66 265.42 166.10 265.48 C167.54 265.54 168.98 265.61 170.41 265.69 C171.85 265.77 173.28 265.86 174.72 265.96 C176.15 266.06 177.58 266.17 179.01 266.29 C180.45 266.40 181.88 266.53 183.31 266.66 C184.74 266.79 186.17 266.93 187.59 267.08 C189.02 267.23 190.45 267.39 191.87 267.55 C193.30 267.72 194.73 267.89 196.15 268.07 C197.58 268.25 199.00 268.44 200.42 268.63 C201.85 268.83 203.27 269.03 204.69 269.24 C206.11 269.44 207.53 269.66 208.95 269.88 C210.37 270.10 211.79 270.33 213.21 270.56 C214.63 270.79 216.05 271.03 217.46 271.28 C218.88 271.52 220.30 271.78 221.71 272.03 C223.13 272.29 224.54 272.55 225.96 272.82 C227.37 273.09 228.79 273.36 230.20 273.64 C231.62 273.91 233.03 274.20 234.44 274.48 C235.85 274.77 237.27 275.06 238.68 275.36 C240.09 275.65 241.50 275.95 242.91 276.26 C244.32 276.56 245.73 276.87 247.14 277.18 C248.55 277.49 249.96 277.81 251.37 278.13 C252.78 278.45 254.19 278.77 255.60 279.09 C257.00 279.42 258.41 279.75 259.82 280.08 C261.23 280.41 262.63 280.74 264.04 281.08 C265.45 281.41 266.85 281.75 268.26 282.09 C269.67 282.43 271.07 282.78 272.48 283.12 C273.89 283.47 275.29 283.81 276.70 284.16 C278.10 284.51 279.51 284.86 280.91 285.21 C282.32 285.56 283.72 285.91 285.13 286.27 C286.53 286.62 287.94 286.97 289.34 287.33 C290.75 287.68 292.15 288.04 293.56 288.39 C294.96 288.75 296.36 289.10 297.77 289.46 C299.17 289.81 300.58 290.17 301.98 290.52 C303.39 290.88 304.79 291.24 306.19 291.59 C307.60 291.94 309.00 292.30 310.41 292.65 C311.81 293.00 313.22 293.36 314.62 293.71 C316.03 294.06 317.43 294.41 318.84 294.75 C320.24 295.10 321.65 295.45 323.05 295.79 C324.46 296.14 325.86 296.48 327.27 296.82 C328.67 297.16 330.08 297.50 331.49 297.84 C332.89 298.17 334.30 298.51 335.71 298.84 C337.11 299.17 338.52 299.50 339.93 299.82 C341.33 300.14 342.74 300.47 344.15 300.79 C345.56 301.10 346.97 301.42 348.37 301.73 C349.78 302.04 351.19 302.35 352.60 302.65 C354.01 302.96 355.42 303.26 356.83 303.55 C358.24 303.85 359.65 304.14 361.06 304.43 C362.47 304.71 363.88 305.00 365.30 305.27 C366.71 305.55 368.12 305.82 369.53 306.09 C370.95 306.36 372.36 306.62 373.78 306.87 C375.19 307.13 376.60 307.38 378.02 307.63 C379.44 307.87 380.85 308.03 382.27 308.34 C383.68 308.66 385.79 309.31 386.50 309.50" fill="none" stroke="#680c9c" stroke-width="1.35" stroke-dasharray="7.4 1.8"/>
<path d="M135.80 266.30 C136.48 266.59 138.49 267.49 139.85 268.04 C141.21 268.58 142.58 269.06 143.95 269.57 C145.32 270.08 146.69 270.58 148.06 271.07 C149.44 271.57 150.81 272.07 152.18 272.55 C153.56 273.04 154.93 273.53 156.31 274.01 C157.69 274.49 159.07 274.97 160.45 275.44 C161.83 275.91 163.21 276.38 164.59 276.85 C165.97 277.31 167.35 277.77 168.74 278.23 C170.12 278.69 171.51 279.14 172.90 279.59 C174.28 280.04 175.67 280.48 177.06 280.93 C178.45 281.37 179.84 281.81 181.23 282.24 C182.62 282.67 184.02 283.10 185.41 283.53 C186.81 283.96 188.20 284.38 189.60 284.80 C190.99 285.22 192.39 285.64 193.79 286.05 C195.19 286.46 196.59 286.87 197.99 287.28 C199.39 287.68 200.79 288.08 202.19 288.48 C203.59 288.88 205.00 289.28 206.40 289.67 C207.80 290.06 209.21 290.45 210.62 290.84 C212.02 291.22 213.43 291.60 214.84 291.98 C216.25 292.36 217.66 292.74 219.06 293.11 C220.47 293.48 221.89 293.85 223.30 294.22 C224.71 294.59 226.12 294.95 227.53 295.31 C228.95 295.67 230.36 296.03 231.78 296.38 C233.19 296.74 234.61 297.09 236.02 297.44 C237.44 297.79 238.86 298.13 240.28 298.47 C241.69 298.82 243.11 299.16 244.53 299.49 C245.95 299.83 247.37 300.17 248.79 300.50 C250.21 300.83 251.64 301.16 253.06 301.49 C254.48 301.81 255.90 302.14 257.33 302.46 C258.75 302.78 260.18 303.10 261.60 303.41 C263.03 303.73 264.45 304.04 265.88 304.36 C267.30 304.67 268.73 304.98 270.16 305.28 C271.58 305.59 273.01 305.89 274.44 306.20 C275.87 306.50 277.30 306.80 278.73 307.09 C280.15 307.39 281.58 307.69 283.01 307.98 C284.44 308.27 285.88 308.56 287.31 308.85 C288.74 309.14 290.17 309.43 291.60 309.71 C293.03 310.00 294.46 310.28 295.90 310.56 C297.33 310.84 298.76 311.12 300.20 311.39 C301.63 311.67 303.06 311.94 304.50 312.22 C305.93 312.49 307.37 312.76 308.80 313.03 C310.24 313.30 311.67 313.57 313.11 313.83 C314.54 314.10 315.98 314.36 317.41 314.62 C318.85 314.88 320.28 315.14 321.72 315.40 C323.16 315.66 324.59 315.92 326.03 316.17 C327.47 316.43 328.90 316.68 330.34 316.94 C331.78 317.19 333.21 317.44 334.65 317.69 C336.09 317.94 337.52 318.19 338.96 318.43 C340.40 318.68 341.84 318.93 343.27 319.17 C344.71 319.41 346.15 319.66 347.59 319.90 C349.03 320.14 350.46 320.38 351.90 320.62 C353.34 320.86 354.78 321.10 356.21 321.33 C357.65 321.57 359.09 321.81 360.53 322.04 C361.96 322.27 363.40 322.51 364.84 322.74 C366.28 322.97 367.71 323.21 369.15 323.44 C370.59 323.67 372.03 323.90 373.46 324.13 C374.90 324.35 376.34 324.58 377.77 324.81 C379.21 325.04 380.63 325.34 382.08 325.49 C383.54 325.64 385.76 325.66 386.50 325.70" fill="none" stroke="#680c9c" stroke-width="1.35" stroke-dasharray="7.4 1.8"/>
<path d="M135.80 266.30 C136.25 266.55 137.61 267.29 138.51 267.81 C139.41 268.32 140.30 268.86 141.20 269.39 C142.09 269.91 142.99 270.43 143.89 270.95 C144.79 271.47 145.70 271.98 146.60 272.50 C147.50 273.01 148.41 273.52 149.31 274.03 C150.22 274.54 151.13 275.04 152.04 275.54 C152.94 276.05 153.85 276.55 154.77 277.04 C155.68 277.54 156.59 278.03 157.50 278.53 C158.42 279.02 159.33 279.51 160.25 279.99 C161.17 280.48 162.08 280.96 163.00 281.44 C163.92 281.92 164.84 282.40 165.76 282.88 C166.69 283.35 167.61 283.83 168.53 284.30 C169.46 284.77 170.38 285.24 171.31 285.70 C172.24 286.17 173.17 286.63 174.09 287.09 C175.02 287.55 175.95 288.00 176.89 288.46 C177.82 288.91 178.75 289.36 179.68 289.81 C180.62 290.26 181.55 290.71 182.49 291.15 C183.43 291.59 184.37 292.03 185.30 292.47 C186.24 292.91 187.18 293.34 188.13 293.77 C189.07 294.21 190.01 294.64 190.95 295.06 C191.90 295.49 192.84 295.91 193.79 296.34 C194.73 296.76 195.68 297.17 196.63 297.59 C197.58 298.01 198.53 298.42 199.48 298.83 C200.43 299.24 201.38 299.65 202.33 300.05 C203.29 300.46 204.24 300.86 205.20 301.26 C206.15 301.66 207.11 302.05 208.07 302.45 C209.02 302.84 209.98 303.23 210.94 303.62 C211.90 304.01 212.86 304.39 213.82 304.78 C214.79 305.16 215.75 305.54 216.71 305.92 C217.68 306.29 218.64 306.67 219.61 307.04 C220.57 307.41 221.54 307.78 222.51 308.15 C223.48 308.51 224.45 308.87 225.42 309.23 C226.39 309.59 227.36 309.95 228.33 310.31 C229.30 310.66 230.28 311.01 231.25 311.36 C232.23 311.71 233.20 312.06 234.18 312.40 C235.16 312.74 236.13 313.09 237.11 313.42 C238.09 313.76 239.07 314.10 240.05 314.43 C241.03 314.76 242.01 315.09 243.00 315.42 C243.98 315.74 244.96 316.07 245.95 316.39 C246.93 316.71 247.92 317.03 248.90 317.34 C249.89 317.66 250.88 317.97 251.86 318.28 C252.85 318.59 253.84 318.89 254.83 319.20 C255.82 319.50 256.81 319.80 257.81 320.10 C258.80 320.40 259.79 320.69 260.79 320.99 C261.78 321.28 262.77 321.57 263.77 321.85 C264.77 322.14 265.76 322.42 266.76 322.70 C267.76 322.99 268.76 323.26 269.75 323.54 C270.75 323.81 271.75 324.09 272.76 324.35 C273.76 324.62 274.76 324.89 275.76 325.15 C276.76 325.42 277.77 325.68 278.77 325.94 C279.78 326.19 280.78 326.45 281.79 326.70 C282.79 326.95 283.80 327.20 284.81 327.45 C285.82 327.69 286.83 327.94 287.84 328.18 C288.84 328.42 289.86 328.65 290.87 328.89 C291.88 329.12 292.89 329.35 293.90 329.58 C294.91 329.81 295.93 330.04 296.94 330.26 C297.96 330.48 298.97 330.70 299.99 330.92 C301.00 331.14 302.04 331.30 303.04 331.56 C304.04 331.82 305.51 332.34 306.00 332.50" fill="none" stroke="#680c9c" stroke-width="1.35" stroke-dasharray="7.4 1.8"/>
</g>
<path d="M52.00 332.50v-10 M60.36 332.50v-5 M68.72 332.50v-5 M77.09 332.50v-5 M85.45 332.50v-10 M93.81 332.50v-5 M102.17 332.50v-5 M110.54 332.50v-5 M118.90 332.50v-10 M127.26 332.50v-5 M135.62 332.50v-5 M143.99 332.50v-5 M152.35 332.50v-10 M160.71 332.50v-5 M169.07 332.50v-5 M177.44 332.50v-5 M185.80 332.50v-10 M194.16 332.50v-5 M202.53 332.50v-5 M210.89 332.50v-5 M219.25 332.50v-10 M227.61 332.50v-5 M235.97 332.50v-5 M244.34 332.50v-5 M252.70 332.50v-10 M261.06 332.50v-5 M269.43 332.50v-5 M277.79 332.50v-5 M286.15 332.50v-10 M294.51 332.50v-5 M302.88 332.50v-5 M311.24 332.50v-5 M319.60 332.50v-10 M327.96 332.50v-5 M336.32 332.50v-5 M344.69 332.50v-5 M353.05 332.50v-10 M361.41 332.50v-5 M369.77 332.50v-5 M378.14 332.50v-5 M386.50 332.50v-10 M52.00 332.50h10 M52.00 323.33h5 M52.00 314.16h5 M52.00 304.99h5 M52.00 295.81h5 M52.00 286.64h10 M52.00 277.47h5 M52.00 268.30h5 M52.00 259.13h5 M52.00 249.96h5 M52.00 240.79h10 M52.00 231.61h5 M52.00 222.44h5 M52.00 213.27h5 M52.00 204.10h5 M52.00 194.93h10 M52.00 185.76h5 M52.00 176.59h5 M52.00 167.41h5 M52.00 158.24h5 M52.00 149.07h10 M52.00 139.90h5 M52.00 130.73h5 M52.00 121.56h5 M52.00 112.39h5 M52.00 103.21h10 M52.00 94.04h5 M52.00 84.87h5 M52.00 75.70h5 M52.00 66.53h5 M52.00 57.36h10 M52.00 48.19h5 M52.00 39.01h5 M52.00 29.84h5 M52.00 20.67h5 M52.00 11.50h10" stroke="#222" stroke-width="0.85" fill="none"/>
<path d="M51.3 11.5H387.8" stroke="#3a3a3a" stroke-width="1"/>
<path d="M51.2 332.6H388" stroke="#1a1a1a" stroke-width="1"/>
<path d="M51.8 11V333" stroke="#7c7c7c" stroke-width="1.4"/>
<path d="M387 11V333" stroke="#7c7c7c" stroke-width="1.9"/>
<g font-family="Liberation Sans, sans-serif" font-size="14" fill="#000">
<text x="51.90" y="347.2" text-anchor="middle">0.2</text>
<text x="85.35" y="347.2" text-anchor="middle">0.22</text>
<text x="118.80" y="347.2" text-anchor="middle">0.24</text>
<text x="152.25" y="347.2" text-anchor="middle">0.26</text>
<text x="185.70" y="347.2" text-anchor="middle">0.28</text>
<text x="219.15" y="347.2" text-anchor="middle">0.3</text>
<text x="252.60" y="347.2" text-anchor="middle">0.32</text>
<text x="286.05" y="347.2" text-anchor="middle">0.34</text>
<text x="319.50" y="347.2" text-anchor="middle">0.36</text>
<text x="352.95" y="347.2" text-anchor="middle">0.38</text>
<text x="386.40" y="347.2" text-anchor="middle">0.4</text>
<text x="49.8" y="337.80" text-anchor="end">150</text>
<text x="49.8" y="291.94" text-anchor="end">200</text>
<text x="49.8" y="246.09" text-anchor="end">250</text>
<text x="49.8" y="200.23" text-anchor="end">300</text>
<text x="49.8" y="154.37" text-anchor="end">350</text>
<text x="49.8" y="108.51" text-anchor="end">400</text>
<text x="49.8" y="62.66" text-anchor="end">450</text>
<text x="49.8" y="16.80" text-anchor="end">500</text>
</g>
<text transform="translate(22.2,181.5) rotate(-90)" font-family="Liberation Sans, sans-serif" font-size="18" fill="#000"><tspan font-family="Liberation Serif, serif" font-size="19">μ</tspan><tspan dx="15.5">(GeV)</tspan></text>
<text x="246.2" y="373" text-anchor="middle" font-family="Liberation Serif, serif" font-size="20" fill="#000">λ</text>
<rect x="264.5" y="14.7" width="121" height="88.3" fill="#fff" stroke="#111" stroke-width="1.4"/>
<path d="M270.8 25.5H293" stroke="#680c9c" stroke-width="1.5" stroke-dasharray="6.3 1.7"/>
<rect x="269" y="35.5" width="26" height="14.5" fill="#f5cccc" stroke="#ea8f8f" stroke-width="0.8"/>
<rect x="269" y="60" width="26" height="14.5" fill="#ccf5cc" stroke="#5adf5a" stroke-width="0.8" stroke-dasharray="1.6 1.2"/>
<rect x="269" y="82" width="26" height="15.5" fill="#c8c8f4" stroke="#8d8de6" stroke-width="0.8"/>
<g font-family="Liberation Sans, sans-serif" font-size="13.2">
<text x="298.5" y="29.5" fill="#680c9c"><tspan font-family="Liberation Serif, serif" font-size="14">σ</tspan><tspan dy="-5" font-size="9.5">SI</tspan><tspan dy="5" dx="11.5">(zb)</tspan></text>
<text x="298.5" y="48" fill="#cc0000">LUX Excluded</text>
<text x="298.5" y="72.3" fill="#00cc00">GC Excess</text>
<text x="297.5" y="94.5" fill="#1414cc"><tspan font-family="Liberation Serif, serif" font-size="15">Ω</tspan><tspan dy="3.5" font-family="Liberation Serif, serif" font-size="10">χ</tspan><tspan dy="-3.5" dx="5" font-size="14">=</tspan><tspan dx="3" font-family="Liberation Serif, serif" font-size="15">Ω</tspan><tspan dy="3.5" font-size="9">DM</tspan></text>
</g>
<rect x="60.3" y="292.8" width="109.8" height="28.3" fill="#fff" stroke="#111" stroke-width="1.1"/>
<g font-family="DejaVu Sans, Liberation Sans, sans-serif" font-size="8.1" fill="#111" stroke="#111" stroke-width="0.12">
<text x="64.6" y="303.5">A<tspan dy="2" font-size="5.8">κ</tspan><tspan dy="-2">=</tspan><tspan dx="4.2" font-family="Liberation Serif, serif" font-size="9.2">-250</tspan><tspan dx="2.8">GeV,</tspan><tspan dx="2.2">tanβ</tspan><tspan dx="1.6">=</tspan><tspan dx="2" font-family="Liberation Serif, serif" font-size="9.2">40</tspan></text>
<text x="64.6" y="314.4">M<tspan dy="2" font-size="5.8">χ</tspan><tspan dy="-2" dx="3.6">∼</tspan><tspan dx="4" font-family="Liberation Serif, serif" font-size="9.2">37</tspan><tspan dx="2.8">GeV,</tspan><tspan dx="3.4">A</tspan><tspan dy="2" font-size="5.8">λ</tspan><tspan dy="-2" dx="1">=</tspan></text>
<g font-family="Liberation Serif, serif" font-size="5" fill="#333"><text x="145.8" y="310.6" text-anchor="middle">2μ</text><text x="145.8" y="317.8" text-anchor="middle">s<tspan font-size="3.6" dy="1">2β</tspan></text><path d="M142.6 312.5h6.6M155.4 312.5h8.6" stroke="#333" stroke-width="0.45"/><text x="152.2" y="314" text-anchor="middle">−</text><text x="159.7" y="310.6" text-anchor="middle">2κμ</text><text x="159.7" y="317.8" text-anchor="middle">λ</text></g>
</g>
<g font-family="Liberation Sans, sans-serif" fill="#000">
<text transform="translate(79,47.5) rotate(65)" font-size="13.8"><tspan>2 m</tspan><tspan dy="2.6" font-size="7.8" font-family="Liberation Serif, serif">χ</tspan><tspan dy="-2.6"> = m</tspan><tspan dy="3" font-size="9.5">a</tspan></text>
<text transform="translate(199.5,54) rotate(48)" font-size="13.9"><tspan>2 m</tspan><tspan dy="2.6" font-size="7.8" font-family="Liberation Serif, serif">χ</tspan><tspan dy="-2.6"> = m</tspan><tspan dy="3" font-size="8.5">h</tspan><tspan dy="2" font-size="6">s</tspan></text>
<text transform="translate(115,201.5) rotate(47.5)" font-size="13.4"><tspan>2 m</tspan><tspan dy="2.6" font-size="7.8" font-family="Liberation Serif, serif">χ</tspan><tspan dy="-2.6"> = 0.9 m</tspan><tspan dy="3" font-size="9.5">a</tspan></text>
<text font-size="12.2"><tspan x="329.6" y="163.8">m</tspan><tspan x="339.4" y="156.2" font-size="9">2</tspan><tspan x="340.2" y="166" font-size="8.6">a</tspan><tspan x="347.6" y="163.8">&lt;</tspan><tspan x="358.6" y="163.8">0</tspan></text>
<text font-size="12.2"><tspan x="63.5" y="258.8">m</tspan><tspan x="73.6" y="251" font-size="9">2</tspan><tspan x="73.8" y="260.8" font-size="8.6">h</tspan><tspan x="78.2" y="263" font-size="5.5">s</tspan><tspan x="81.9" y="258.8">&lt;</tspan><tspan x="93.1" y="258.8">0</tspan></text>
</g>
<text transform="translate(129.5,29) rotate(50)" font-family="Liberation Sans, sans-serif" font-size="13.3" fill="#9c6c0c" stroke="#9c6c0c" stroke-width="0.25">ee<tspan font-size="17" dy="1.2">→</tspan><tspan dy="-1.2"> hZ Excluded</tspan></text>
<g font-family="Liberation Sans, sans-serif" font-size="13.5" fill="#1515c8" stroke="#1515c8" stroke-width="0.2"><text transform="translate(301,268.5) rotate(-17)">Z-mediated</text><text transform="translate(305,286) rotate(-17)">annihilation</text></g>
<g font-family="Liberation Sans, sans-serif" font-style="italic" fill="#680c9c" stroke="#680c9c" stroke-width="0.2">
<text x="200.6" y="176.1" font-size="13.4" font-style="normal">0.1</text>
<text transform="translate(259,279) rotate(10)" font-size="13">0.1</text>
<text transform="translate(212,290) rotate(10)" font-size="13">0.1</text>
<text transform="translate(72.2,195) rotate(50)" font-size="8.5">10</text>
<text transform="translate(275,323) rotate(12)" font-size="8.5">10</text>
</g>
</svg>
</body></html>
